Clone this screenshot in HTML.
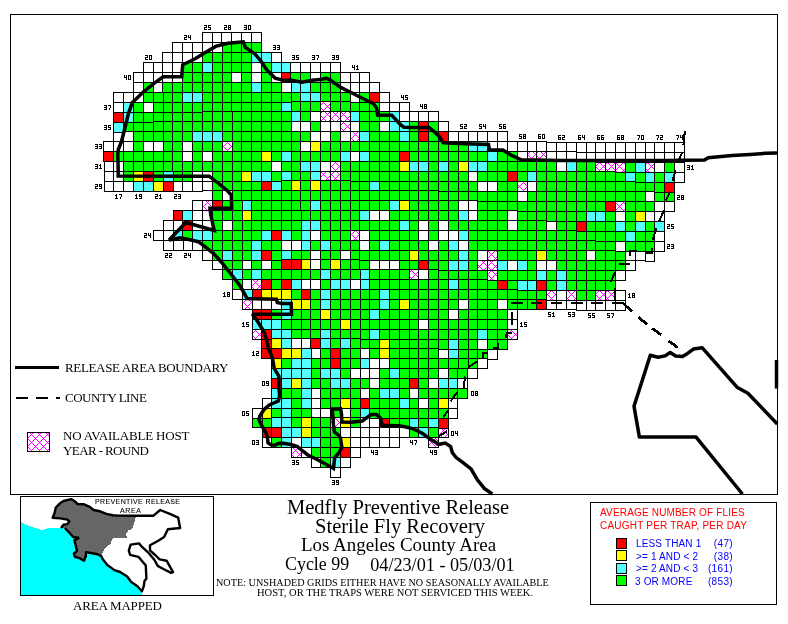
<!DOCTYPE html>
<html><head><meta charset="utf-8"><title>Medfly Preventive Release</title>
<style>
html,body{margin:0;padding:0;background:#fff;}
body{width:788px;height:624px;overflow:hidden;position:relative;font-family:"Liberation Serif",serif;}
svg{position:absolute;left:0;top:0;display:block}
.t{position:absolute;white-space:nowrap;color:#000;line-height:1;font-family:"Liberation Serif",serif;will-change:transform}
.s{font-family:"Liberation Sans",sans-serif}
</style></head><body>
<svg width="788" height="624" viewBox="0 0 788 624" shape-rendering="crispEdges">
<defs>
<pattern id="hx" patternUnits="userSpaceOnUse" width="8" height="8" x="0" y="0">
<g fill="#ff00ff" stroke="none"><rect x="0" y="1" width="1" height="1"/><rect x="0" y="3" width="1" height="1"/><rect x="1" y="0" width="1" height="1"/><rect x="1" y="4" width="1" height="1"/><rect x="2" y="5" width="1" height="1"/><rect x="2" y="7" width="1" height="1"/><rect x="3" y="6" width="1" height="1"/><rect x="4" y="5" width="1" height="1"/><rect x="4" y="7" width="1" height="1"/><rect x="5" y="0" width="1" height="1"/><rect x="5" y="4" width="1" height="1"/><rect x="6" y="1" width="1" height="1"/><rect x="6" y="3" width="1" height="1"/><rect x="7" y="2" width="1" height="1"/></g>
</pattern>
</defs>
<rect x="0" y="0" width="788" height="624" fill="#fff"/>
<g stroke="#000" stroke-width="1">
<rect x="202.5" y="32.5" width="10" height="10" fill="#ffffff"/>
<rect x="212.5" y="32.5" width="9" height="10" fill="#ffffff"/>
<rect x="221.5" y="32.5" width="10" height="10" fill="#ffffff"/>
<rect x="231.5" y="32.5" width="10" height="10" fill="#ffffff"/>
<rect x="241.5" y="32.5" width="10" height="10" fill="#ffffff"/>
<rect x="251.5" y="32.5" width="10" height="10" fill="#ffffff"/>
<rect x="172.5" y="42.5" width="10" height="10" fill="#ffffff"/>
<rect x="182.5" y="42.5" width="10" height="10" fill="#ffffff"/>
<rect x="192.5" y="42.5" width="10" height="10" fill="#ffffff"/>
<rect x="202.5" y="42.5" width="10" height="10" fill="#ffffff"/>
<rect x="212.5" y="42.5" width="10" height="10" fill="#ffffff"/>
<rect x="222.5" y="42.5" width="9" height="10" fill="#00ff00"/>
<rect x="231.5" y="42.5" width="10" height="10" fill="#00ff00"/>
<rect x="241.5" y="42.5" width="10" height="10" fill="#00ff00"/>
<rect x="251.5" y="42.5" width="10" height="10" fill="#00ff00"/>
<rect x="162.5" y="52.5" width="10" height="10" fill="#ffffff"/>
<rect x="172.5" y="52.5" width="10" height="10" fill="#ffffff"/>
<rect x="182.5" y="52.5" width="10" height="10" fill="#ffffff"/>
<rect x="192.5" y="52.5" width="10" height="10" fill="#ffffff"/>
<rect x="202.5" y="52.5" width="10" height="10" fill="#00ff00"/>
<rect x="212.5" y="52.5" width="10" height="10" fill="#00ff00"/>
<rect x="222.5" y="52.5" width="9" height="10" fill="#00ff00"/>
<rect x="231.5" y="52.5" width="10" height="10" fill="#00ff00"/>
<rect x="241.5" y="52.5" width="10" height="10" fill="#00ff00"/>
<rect x="251.5" y="52.5" width="10" height="10" fill="#55ffff"/>
<rect x="261.5" y="52.5" width="10" height="10" fill="#55ffff"/>
<rect x="271.5" y="52.5" width="10" height="10" fill="#ffffff"/>
<rect x="143.5" y="62.5" width="10" height="10" fill="#ffffff"/>
<rect x="153.5" y="62.5" width="9" height="10" fill="#ffffff"/>
<rect x="162.5" y="62.5" width="10" height="10" fill="#ffffff"/>
<rect x="172.5" y="62.5" width="10" height="10" fill="#ffffff"/>
<rect x="182.5" y="62.5" width="10" height="10" fill="#00ff00"/>
<rect x="192.5" y="62.5" width="10" height="10" fill="#00ff00"/>
<rect x="202.5" y="62.5" width="10" height="10" fill="#55ffff"/>
<rect x="212.5" y="62.5" width="10" height="10" fill="#00ff00"/>
<rect x="222.5" y="62.5" width="9" height="10" fill="#00ff00"/>
<rect x="231.5" y="62.5" width="10" height="10" fill="#00ff00"/>
<rect x="241.5" y="62.5" width="10" height="10" fill="#00ff00"/>
<rect x="251.5" y="62.5" width="10" height="10" fill="#ffffff"/>
<rect x="261.5" y="62.5" width="10" height="10" fill="#00ff00"/>
<rect x="271.5" y="62.5" width="10" height="10" fill="#55ffff"/>
<rect x="281.5" y="62.5" width="9" height="10" fill="#55ffff"/>
<rect x="290.5" y="62.5" width="10" height="10" fill="#ffffff"/>
<rect x="300.5" y="62.5" width="10" height="10" fill="#ffffff"/>
<rect x="310.5" y="62.5" width="10" height="10" fill="#ffffff"/>
<rect x="320.5" y="62.5" width="10" height="10" fill="#ffffff"/>
<rect x="330.5" y="62.5" width="10" height="10" fill="#ffffff"/>
<rect x="133.5" y="72.5" width="10" height="10" fill="#ffffff"/>
<rect x="143.5" y="72.5" width="10" height="10" fill="#ffffff"/>
<rect x="153.5" y="72.5" width="9" height="10" fill="#ffffff"/>
<rect x="162.5" y="72.5" width="10" height="10" fill="#ffffff"/>
<rect x="172.5" y="72.5" width="10" height="10" fill="#ffffff"/>
<rect x="182.5" y="72.5" width="10" height="10" fill="#00ff00"/>
<rect x="192.5" y="72.5" width="10" height="10" fill="#00ff00"/>
<rect x="202.5" y="72.5" width="10" height="10" fill="#00ff00"/>
<rect x="212.5" y="72.5" width="10" height="10" fill="#00ff00"/>
<rect x="222.5" y="72.5" width="9" height="10" fill="#00ff00"/>
<rect x="231.5" y="72.5" width="10" height="10" fill="#ffffff"/>
<rect x="241.5" y="72.5" width="10" height="10" fill="#00ff00"/>
<rect x="251.5" y="72.5" width="10" height="10" fill="#ffffff"/>
<rect x="261.5" y="72.5" width="10" height="10" fill="#00ff00"/>
<rect x="271.5" y="72.5" width="10" height="10" fill="#ffffff"/>
<rect x="281.5" y="72.5" width="9" height="10" fill="#ff0000"/>
<rect x="290.5" y="72.5" width="10" height="10" fill="#00ff00"/>
<rect x="300.5" y="72.5" width="10" height="10" fill="#00ff00"/>
<rect x="310.5" y="72.5" width="10" height="10" fill="#ffffff"/>
<rect x="320.5" y="72.5" width="10" height="10" fill="#00ff00"/>
<rect x="330.5" y="72.5" width="10" height="10" fill="#00ff00"/>
<rect x="340.5" y="72.5" width="10" height="10" fill="#ffffff"/>
<rect x="350.5" y="72.5" width="9" height="10" fill="#ffffff"/>
<rect x="359.5" y="72.5" width="10" height="10" fill="#ffffff"/>
<rect x="133.5" y="82.5" width="10" height="10" fill="#ffffff"/>
<rect x="143.5" y="82.5" width="10" height="10" fill="#00ff00"/>
<rect x="153.5" y="82.5" width="9" height="10" fill="#ffffff"/>
<rect x="162.5" y="82.5" width="10" height="10" fill="#00ff00"/>
<rect x="172.5" y="82.5" width="10" height="10" fill="#00ff00"/>
<rect x="182.5" y="82.5" width="10" height="10" fill="#00ff00"/>
<rect x="192.5" y="82.5" width="10" height="10" fill="#00ff00"/>
<rect x="202.5" y="82.5" width="10" height="10" fill="#00ff00"/>
<rect x="212.5" y="82.5" width="10" height="10" fill="#00ff00"/>
<rect x="222.5" y="82.5" width="9" height="10" fill="#00ff00"/>
<rect x="231.5" y="82.5" width="10" height="10" fill="#00ff00"/>
<rect x="241.5" y="82.5" width="10" height="10" fill="#00ff00"/>
<rect x="251.5" y="82.5" width="10" height="10" fill="#55ffff"/>
<rect x="261.5" y="82.5" width="10" height="10" fill="#00ff00"/>
<rect x="271.5" y="82.5" width="10" height="10" fill="#00ff00"/>
<rect x="281.5" y="82.5" width="10" height="10" fill="#ffffff"/>
<rect x="291.5" y="82.5" width="9" height="10" fill="#55ffff"/>
<rect x="300.5" y="82.5" width="10" height="10" fill="#55ffff"/>
<rect x="310.5" y="82.5" width="10" height="10" fill="#00ff00"/>
<rect x="320.5" y="82.5" width="10" height="10" fill="#00ff00"/>
<rect x="330.5" y="82.5" width="10" height="10" fill="#00ff00"/>
<rect x="340.5" y="82.5" width="10" height="10" fill="#ffffff"/>
<rect x="350.5" y="82.5" width="9" height="10" fill="#ffffff"/>
<rect x="359.5" y="82.5" width="10" height="10" fill="#ffffff"/>
<rect x="369.5" y="82.5" width="10" height="10" fill="#ffffff"/>
<rect x="113.5" y="92.5" width="10" height="10" fill="#ffffff"/>
<rect x="123.5" y="92.5" width="10" height="10" fill="#ffffff"/>
<rect x="133.5" y="92.5" width="10" height="10" fill="#ffffff"/>
<rect x="143.5" y="92.5" width="10" height="10" fill="#00ff00"/>
<rect x="153.5" y="92.5" width="10" height="10" fill="#00ff00"/>
<rect x="163.5" y="92.5" width="9" height="10" fill="#00ff00"/>
<rect x="172.5" y="92.5" width="10" height="10" fill="#00ff00"/>
<rect x="182.5" y="92.5" width="10" height="10" fill="#55ffff"/>
<rect x="192.5" y="92.5" width="10" height="10" fill="#55ffff"/>
<rect x="202.5" y="92.5" width="10" height="10" fill="#00ff00"/>
<rect x="212.5" y="92.5" width="10" height="10" fill="#00ff00"/>
<rect x="222.5" y="92.5" width="9" height="10" fill="#00ff00"/>
<rect x="231.5" y="92.5" width="10" height="10" fill="#00ff00"/>
<rect x="241.5" y="92.5" width="10" height="10" fill="#00ff00"/>
<rect x="251.5" y="92.5" width="10" height="10" fill="#00ff00"/>
<rect x="261.5" y="92.5" width="10" height="10" fill="#00ff00"/>
<rect x="271.5" y="92.5" width="10" height="10" fill="#00ff00"/>
<rect x="281.5" y="92.5" width="10" height="10" fill="#00ff00"/>
<rect x="291.5" y="92.5" width="9" height="9" fill="#00ff00"/>
<rect x="300.5" y="92.5" width="10" height="9" fill="#55ffff"/>
<rect x="310.5" y="92.5" width="10" height="9" fill="#55ffff"/>
<rect x="320.5" y="92.5" width="10" height="9" fill="#00ff00"/>
<rect x="330.5" y="92.5" width="10" height="9" fill="#00ff00"/>
<rect x="340.5" y="92.5" width="10" height="9" fill="#00ff00"/>
<rect x="350.5" y="92.5" width="9" height="10" fill="#ffffff"/>
<rect x="359.5" y="92.5" width="10" height="10" fill="#00ff00"/>
<rect x="369.5" y="92.5" width="10" height="10" fill="#ff0000"/>
<rect x="379.5" y="92.5" width="10" height="10" fill="#ffffff"/>
<rect x="113.5" y="102.5" width="10" height="10" fill="#ffffff"/>
<rect x="123.5" y="102.5" width="10" height="10" fill="#55ffff"/>
<rect x="133.5" y="102.5" width="10" height="10" fill="#00ff00"/>
<rect x="143.5" y="102.5" width="10" height="10" fill="#ffffff"/>
<rect x="153.5" y="102.5" width="10" height="10" fill="#00ff00"/>
<rect x="163.5" y="102.5" width="9" height="10" fill="#00ff00"/>
<rect x="172.5" y="102.5" width="10" height="10" fill="#00ff00"/>
<rect x="182.5" y="102.5" width="10" height="10" fill="#00ff00"/>
<rect x="192.5" y="102.5" width="10" height="10" fill="#00ff00"/>
<rect x="202.5" y="102.5" width="10" height="9" fill="#00ff00"/>
<rect x="212.5" y="102.5" width="10" height="9" fill="#00ff00"/>
<rect x="222.5" y="102.5" width="9" height="9" fill="#00ff00"/>
<rect x="231.5" y="102.5" width="10" height="9" fill="#00ff00"/>
<rect x="241.5" y="102.5" width="10" height="9" fill="#00ff00"/>
<rect x="251.5" y="102.5" width="10" height="9" fill="#00ff00"/>
<rect x="261.5" y="102.5" width="10" height="9" fill="#00ff00"/>
<rect x="271.5" y="102.5" width="10" height="9" fill="#00ff00"/>
<rect x="281.5" y="102.5" width="10" height="9" fill="#55ffff"/>
<rect x="291.5" y="101.5" width="9" height="10" fill="#00ff00"/>
<rect x="300.5" y="101.5" width="10" height="10" fill="#00ff00"/>
<rect x="310.5" y="101.5" width="10" height="10" fill="#00ff00"/>
<rect x="320.5" y="101.5" width="10" height="10" fill="#fff" stroke="none"/>
<rect x="320.5" y="101.5" width="10" height="10" fill="url(#hx)"/>
<rect x="330.5" y="101.5" width="10" height="10" fill="#00ff00"/>
<rect x="340.5" y="101.5" width="10" height="10" fill="#00ff00"/>
<rect x="350.5" y="102.5" width="9" height="9" fill="#00ff00"/>
<rect x="359.5" y="102.5" width="10" height="9" fill="#00ff00"/>
<rect x="369.5" y="102.5" width="10" height="9" fill="#00ff00"/>
<rect x="379.5" y="102.5" width="10" height="9" fill="#ffffff"/>
<rect x="389.5" y="102.5" width="10" height="9" fill="#ffffff"/>
<rect x="399.5" y="102.5" width="10" height="9" fill="#ffffff"/>
<rect x="113.5" y="112.5" width="10" height="10" fill="#ff0000"/>
<rect x="123.5" y="112.5" width="10" height="10" fill="#55ffff"/>
<rect x="133.5" y="112.5" width="10" height="10" fill="#00ff00"/>
<rect x="143.5" y="112.5" width="10" height="10" fill="#00ff00"/>
<rect x="153.5" y="112.5" width="10" height="9" fill="#00ff00"/>
<rect x="163.5" y="112.5" width="9" height="9" fill="#00ff00"/>
<rect x="172.5" y="112.5" width="10" height="9" fill="#00ff00"/>
<rect x="182.5" y="112.5" width="10" height="9" fill="#00ff00"/>
<rect x="192.5" y="112.5" width="10" height="9" fill="#00ff00"/>
<rect x="202.5" y="111.5" width="10" height="10" fill="#00ff00"/>
<rect x="212.5" y="111.5" width="10" height="10" fill="#00ff00"/>
<rect x="222.5" y="111.5" width="10" height="10" fill="#00ff00"/>
<rect x="232.5" y="111.5" width="9" height="10" fill="#00ff00"/>
<rect x="241.5" y="111.5" width="10" height="10" fill="#00ff00"/>
<rect x="251.5" y="111.5" width="10" height="10" fill="#00ff00"/>
<rect x="261.5" y="111.5" width="10" height="10" fill="#00ff00"/>
<rect x="271.5" y="111.5" width="10" height="10" fill="#00ff00"/>
<rect x="281.5" y="111.5" width="10" height="10" fill="#00ff00"/>
<rect x="291.5" y="111.5" width="9" height="10" fill="#55ffff"/>
<rect x="300.5" y="111.5" width="10" height="10" fill="#00ff00"/>
<rect x="310.5" y="111.5" width="10" height="10" fill="#ffffff"/>
<rect x="320.5" y="111.5" width="10" height="10" fill="#fff" stroke="none"/>
<rect x="320.5" y="111.5" width="10" height="10" fill="url(#hx)"/>
<rect x="330.5" y="111.5" width="10" height="10" fill="#fff" stroke="none"/>
<rect x="330.5" y="111.5" width="10" height="10" fill="url(#hx)"/>
<rect x="340.5" y="111.5" width="10" height="10" fill="#fff" stroke="none"/>
<rect x="340.5" y="111.5" width="10" height="10" fill="url(#hx)"/>
<rect x="350.5" y="111.5" width="9" height="10" fill="#55ffff"/>
<rect x="359.5" y="111.5" width="10" height="10" fill="#00ff00"/>
<rect x="369.5" y="111.5" width="10" height="10" fill="#00ff00"/>
<rect x="379.5" y="111.5" width="10" height="10" fill="#00ff00"/>
<rect x="389.5" y="111.5" width="10" height="10" fill="#55ffff"/>
<rect x="399.5" y="111.5" width="10" height="10" fill="#ffffff"/>
<rect x="409.5" y="111.5" width="9" height="10" fill="#ffffff"/>
<rect x="418.5" y="111.5" width="10" height="10" fill="#ffffff"/>
<rect x="428.5" y="111.5" width="10" height="10" fill="#ffffff"/>
<rect x="113.5" y="122.5" width="10" height="10" fill="#55ffff"/>
<rect x="123.5" y="122.5" width="10" height="9" fill="#00ff00"/>
<rect x="133.5" y="122.5" width="10" height="9" fill="#00ff00"/>
<rect x="143.5" y="122.5" width="10" height="9" fill="#00ff00"/>
<rect x="153.5" y="121.5" width="10" height="10" fill="#00ff00"/>
<rect x="163.5" y="121.5" width="9" height="10" fill="#00ff00"/>
<rect x="172.5" y="121.5" width="10" height="10" fill="#00ff00"/>
<rect x="182.5" y="121.5" width="10" height="10" fill="#00ff00"/>
<rect x="192.5" y="121.5" width="10" height="10" fill="#00ff00"/>
<rect x="202.5" y="121.5" width="10" height="10" fill="#00ff00"/>
<rect x="212.5" y="121.5" width="10" height="10" fill="#00ff00"/>
<rect x="222.5" y="121.5" width="10" height="10" fill="#00ff00"/>
<rect x="232.5" y="121.5" width="9" height="10" fill="#00ff00"/>
<rect x="241.5" y="121.5" width="10" height="10" fill="#00ff00"/>
<rect x="251.5" y="121.5" width="10" height="10" fill="#00ff00"/>
<rect x="261.5" y="121.5" width="10" height="10" fill="#00ff00"/>
<rect x="271.5" y="121.5" width="10" height="10" fill="#00ff00"/>
<rect x="281.5" y="121.5" width="10" height="10" fill="#00ff00"/>
<rect x="291.5" y="121.5" width="9" height="10" fill="#ffffff"/>
<rect x="300.5" y="121.5" width="10" height="10" fill="#ffffff"/>
<rect x="310.5" y="121.5" width="10" height="10" fill="#00ff00"/>
<rect x="320.5" y="121.5" width="10" height="10" fill="#ffffff"/>
<rect x="330.5" y="121.5" width="10" height="10" fill="#ffffff"/>
<rect x="340.5" y="121.5" width="10" height="10" fill="#fff" stroke="none"/>
<rect x="340.5" y="121.5" width="10" height="10" fill="url(#hx)"/>
<rect x="350.5" y="121.5" width="9" height="10" fill="#ffffff"/>
<rect x="359.5" y="121.5" width="10" height="10" fill="#00ff00"/>
<rect x="369.5" y="121.5" width="10" height="10" fill="#00ff00"/>
<rect x="379.5" y="121.5" width="10" height="10" fill="#ffffff"/>
<rect x="389.5" y="121.5" width="10" height="10" fill="#55ffff"/>
<rect x="399.5" y="121.5" width="10" height="10" fill="#55ffff"/>
<rect x="409.5" y="121.5" width="9" height="10" fill="#00ff00"/>
<rect x="418.5" y="121.5" width="10" height="10" fill="#ff0000"/>
<rect x="428.5" y="121.5" width="10" height="10" fill="#00ff00"/>
<rect x="438.5" y="121.5" width="10" height="10" fill="#ffffff"/>
<rect x="113.5" y="132.5" width="10" height="9" fill="#ffffff"/>
<rect x="123.5" y="131.5" width="10" height="10" fill="#ffffff"/>
<rect x="133.5" y="131.5" width="10" height="10" fill="#00ff00"/>
<rect x="143.5" y="131.5" width="10" height="10" fill="#00ff00"/>
<rect x="153.5" y="131.5" width="10" height="10" fill="#00ff00"/>
<rect x="163.5" y="131.5" width="9" height="10" fill="#00ff00"/>
<rect x="172.5" y="131.5" width="10" height="10" fill="#00ff00"/>
<rect x="182.5" y="131.5" width="10" height="10" fill="#00ff00"/>
<rect x="192.5" y="131.5" width="10" height="10" fill="#55ffff"/>
<rect x="202.5" y="131.5" width="10" height="10" fill="#55ffff"/>
<rect x="212.5" y="131.5" width="10" height="10" fill="#55ffff"/>
<rect x="222.5" y="131.5" width="10" height="10" fill="#00ff00"/>
<rect x="232.5" y="131.5" width="9" height="10" fill="#00ff00"/>
<rect x="241.5" y="131.5" width="10" height="10" fill="#00ff00"/>
<rect x="251.5" y="131.5" width="10" height="10" fill="#00ff00"/>
<rect x="261.5" y="131.5" width="10" height="10" fill="#00ff00"/>
<rect x="271.5" y="131.5" width="10" height="10" fill="#00ff00"/>
<rect x="281.5" y="131.5" width="10" height="10" fill="#00ff00"/>
<rect x="291.5" y="131.5" width="9" height="10" fill="#00ff00"/>
<rect x="300.5" y="131.5" width="10" height="10" fill="#00ff00"/>
<rect x="310.5" y="131.5" width="10" height="10" fill="#ffffff"/>
<rect x="320.5" y="131.5" width="10" height="10" fill="#ffffff"/>
<rect x="330.5" y="131.5" width="10" height="10" fill="#00ff00"/>
<rect x="340.5" y="131.5" width="10" height="10" fill="#ffffff"/>
<rect x="350.5" y="131.5" width="9" height="10" fill="#fff" stroke="none"/>
<rect x="350.5" y="131.5" width="9" height="10" fill="url(#hx)"/>
<rect x="359.5" y="131.5" width="10" height="10" fill="#55ffff"/>
<rect x="369.5" y="131.5" width="10" height="10" fill="#00ff00"/>
<rect x="379.5" y="131.5" width="10" height="10" fill="#00ff00"/>
<rect x="389.5" y="131.5" width="10" height="10" fill="#00ff00"/>
<rect x="399.5" y="131.5" width="10" height="10" fill="#55ffff"/>
<rect x="409.5" y="131.5" width="9" height="10" fill="#00ff00"/>
<rect x="418.5" y="131.5" width="10" height="10" fill="#ff0000"/>
<rect x="428.5" y="131.5" width="10" height="10" fill="#00ff00"/>
<rect x="438.5" y="131.5" width="10" height="10" fill="#ff0000"/>
<rect x="448.5" y="131.5" width="10" height="10" fill="#ffffff"/>
<rect x="458.5" y="131.5" width="10" height="10" fill="#ffffff"/>
<rect x="468.5" y="131.5" width="9" height="10" fill="#ffffff"/>
<rect x="477.5" y="131.5" width="10" height="10" fill="#ffffff"/>
<rect x="487.5" y="131.5" width="10" height="10" fill="#ffffff"/>
<rect x="497.5" y="131.5" width="10" height="10" fill="#ffffff"/>
<rect x="103.5" y="141.5" width="10" height="10" fill="#ffffff"/>
<rect x="113.5" y="141.5" width="10" height="10" fill="#ffffff"/>
<rect x="123.5" y="141.5" width="10" height="10" fill="#ffffff"/>
<rect x="133.5" y="141.5" width="10" height="10" fill="#00ff00"/>
<rect x="143.5" y="141.5" width="10" height="10" fill="#ffffff"/>
<rect x="153.5" y="141.5" width="10" height="10" fill="#ffffff"/>
<rect x="163.5" y="141.5" width="9" height="10" fill="#00ff00"/>
<rect x="172.5" y="141.5" width="10" height="10" fill="#00ff00"/>
<rect x="182.5" y="141.5" width="10" height="10" fill="#ffffff"/>
<rect x="192.5" y="141.5" width="10" height="10" fill="#00ff00"/>
<rect x="202.5" y="141.5" width="10" height="10" fill="#00ff00"/>
<rect x="212.5" y="141.5" width="10" height="10" fill="#00ff00"/>
<rect x="222.5" y="141.5" width="10" height="10" fill="#fff" stroke="none"/>
<rect x="222.5" y="141.5" width="10" height="10" fill="url(#hx)"/>
<rect x="232.5" y="141.5" width="9" height="10" fill="#00ff00"/>
<rect x="241.5" y="141.5" width="10" height="10" fill="#00ff00"/>
<rect x="251.5" y="141.5" width="10" height="10" fill="#00ff00"/>
<rect x="261.5" y="141.5" width="10" height="10" fill="#00ff00"/>
<rect x="271.5" y="141.5" width="10" height="10" fill="#00ff00"/>
<rect x="281.5" y="141.5" width="10" height="10" fill="#00ff00"/>
<rect x="291.5" y="141.5" width="9" height="10" fill="#00ff00"/>
<rect x="300.5" y="141.5" width="10" height="10" fill="#ffffff"/>
<rect x="310.5" y="141.5" width="10" height="10" fill="#ffff00"/>
<rect x="320.5" y="141.5" width="10" height="10" fill="#00ff00"/>
<rect x="330.5" y="141.5" width="10" height="10" fill="#00ff00"/>
<rect x="340.5" y="141.5" width="10" height="10" fill="#00ff00"/>
<rect x="350.5" y="141.5" width="9" height="10" fill="#00ff00"/>
<rect x="359.5" y="141.5" width="10" height="10" fill="#00ff00"/>
<rect x="369.5" y="141.5" width="10" height="10" fill="#00ff00"/>
<rect x="379.5" y="141.5" width="10" height="10" fill="#00ff00"/>
<rect x="389.5" y="141.5" width="10" height="10" fill="#00ff00"/>
<rect x="399.5" y="141.5" width="10" height="10" fill="#00ff00"/>
<rect x="409.5" y="141.5" width="9" height="10" fill="#00ff00"/>
<rect x="418.5" y="141.5" width="10" height="10" fill="#00ff00"/>
<rect x="428.5" y="141.5" width="10" height="10" fill="#00ff00"/>
<rect x="438.5" y="141.5" width="10" height="10" fill="#00ff00"/>
<rect x="448.5" y="141.5" width="10" height="10" fill="#00ff00"/>
<rect x="458.5" y="141.5" width="10" height="10" fill="#00ff00"/>
<rect x="468.5" y="141.5" width="9" height="10" fill="#55ffff"/>
<rect x="477.5" y="141.5" width="10" height="10" fill="#55ffff"/>
<rect x="487.5" y="141.5" width="10" height="10" fill="#ffffff"/>
<rect x="497.5" y="141.5" width="10" height="10" fill="#ffffff"/>
<rect x="507.5" y="141.5" width="10" height="10" fill="#ffffff"/>
<rect x="517.5" y="141.5" width="10" height="10" fill="#ffffff"/>
<rect x="527.5" y="141.5" width="9" height="10" fill="#ffffff"/>
<rect x="536.5" y="141.5" width="10" height="10" fill="#ffffff"/>
<rect x="546.5" y="142.5" width="10" height="9" fill="#ffffff"/>
<rect x="556.5" y="142.5" width="10" height="9" fill="#ffffff"/>
<rect x="566.5" y="142.5" width="10" height="9" fill="#ffffff"/>
<rect x="576.5" y="142.5" width="10" height="10" fill="#ffffff"/>
<rect x="586.5" y="142.5" width="9" height="10" fill="#ffffff"/>
<rect x="595.5" y="142.5" width="10" height="10" fill="#ffffff"/>
<rect x="605.5" y="142.5" width="10" height="10" fill="#ffffff"/>
<rect x="615.5" y="142.5" width="10" height="10" fill="#ffffff"/>
<rect x="625.5" y="142.5" width="10" height="10" fill="#ffffff"/>
<rect x="635.5" y="142.5" width="10" height="10" fill="#ffffff"/>
<rect x="645.5" y="142.5" width="9" height="10" fill="#ffffff"/>
<rect x="654.5" y="142.5" width="10" height="10" fill="#ffffff"/>
<rect x="664.5" y="142.5" width="10" height="10" fill="#ffffff"/>
<rect x="674.5" y="142.5" width="10" height="10" fill="#ffffff"/>
<rect x="103.5" y="151.5" width="10" height="10" fill="#ff0000"/>
<rect x="113.5" y="151.5" width="10" height="10" fill="#00ff00"/>
<rect x="123.5" y="151.5" width="10" height="10" fill="#00ff00"/>
<rect x="133.5" y="151.5" width="10" height="10" fill="#00ff00"/>
<rect x="143.5" y="151.5" width="10" height="10" fill="#00ff00"/>
<rect x="153.5" y="151.5" width="10" height="10" fill="#00ff00"/>
<rect x="163.5" y="151.5" width="9" height="10" fill="#00ff00"/>
<rect x="172.5" y="151.5" width="10" height="10" fill="#00ff00"/>
<rect x="182.5" y="151.5" width="10" height="10" fill="#ffffff"/>
<rect x="192.5" y="151.5" width="10" height="10" fill="#00ff00"/>
<rect x="202.5" y="151.5" width="10" height="10" fill="#ffffff"/>
<rect x="212.5" y="151.5" width="10" height="10" fill="#00ff00"/>
<rect x="222.5" y="151.5" width="10" height="10" fill="#00ff00"/>
<rect x="232.5" y="151.5" width="9" height="10" fill="#00ff00"/>
<rect x="241.5" y="151.5" width="10" height="10" fill="#00ff00"/>
<rect x="251.5" y="151.5" width="10" height="10" fill="#00ff00"/>
<rect x="261.5" y="151.5" width="10" height="10" fill="#ffff00"/>
<rect x="271.5" y="151.5" width="10" height="10" fill="#00ff00"/>
<rect x="281.5" y="151.5" width="10" height="10" fill="#55ffff"/>
<rect x="291.5" y="151.5" width="9" height="10" fill="#00ff00"/>
<rect x="300.5" y="151.5" width="10" height="10" fill="#00ff00"/>
<rect x="310.5" y="151.5" width="10" height="10" fill="#00ff00"/>
<rect x="320.5" y="151.5" width="10" height="10" fill="#00ff00"/>
<rect x="330.5" y="151.5" width="10" height="10" fill="#00ff00"/>
<rect x="340.5" y="151.5" width="10" height="10" fill="#55ffff"/>
<rect x="350.5" y="151.5" width="9" height="10" fill="#ffffff"/>
<rect x="359.5" y="151.5" width="10" height="10" fill="#55ffff"/>
<rect x="369.5" y="151.5" width="10" height="10" fill="#00ff00"/>
<rect x="379.5" y="151.5" width="10" height="10" fill="#00ff00"/>
<rect x="389.5" y="151.5" width="10" height="10" fill="#00ff00"/>
<rect x="399.5" y="151.5" width="10" height="10" fill="#ff0000"/>
<rect x="409.5" y="151.5" width="9" height="10" fill="#00ff00"/>
<rect x="418.5" y="151.5" width="10" height="10" fill="#00ff00"/>
<rect x="428.5" y="151.5" width="10" height="10" fill="#00ff00"/>
<rect x="438.5" y="151.5" width="10" height="10" fill="#00ff00"/>
<rect x="448.5" y="151.5" width="10" height="10" fill="#00ff00"/>
<rect x="458.5" y="151.5" width="10" height="10" fill="#00ff00"/>
<rect x="468.5" y="151.5" width="9" height="10" fill="#00ff00"/>
<rect x="477.5" y="151.5" width="10" height="10" fill="#00ff00"/>
<rect x="487.5" y="151.5" width="10" height="10" fill="#55ffff"/>
<rect x="497.5" y="151.5" width="10" height="10" fill="#00ff00"/>
<rect x="507.5" y="151.5" width="10" height="10" fill="#00ff00"/>
<rect x="517.5" y="151.5" width="10" height="10" fill="#ffffff"/>
<rect x="527.5" y="151.5" width="9" height="10" fill="#fff" stroke="none"/>
<rect x="527.5" y="151.5" width="9" height="10" fill="url(#hx)"/>
<rect x="536.5" y="151.5" width="10" height="10" fill="#fff" stroke="none"/>
<rect x="536.5" y="151.5" width="10" height="10" fill="url(#hx)"/>
<rect x="546.5" y="151.5" width="10" height="10" fill="#ffffff"/>
<rect x="556.5" y="151.5" width="10" height="10" fill="#ffffff"/>
<rect x="566.5" y="151.5" width="10" height="10" fill="#ffffff"/>
<rect x="576.5" y="152.5" width="10" height="9" fill="#ffffff"/>
<rect x="586.5" y="152.5" width="9" height="9" fill="#ffffff"/>
<rect x="595.5" y="152.5" width="10" height="10" fill="#ffffff"/>
<rect x="605.5" y="152.5" width="10" height="10" fill="#ffffff"/>
<rect x="615.5" y="152.5" width="10" height="10" fill="#ffffff"/>
<rect x="625.5" y="152.5" width="10" height="10" fill="#ffffff"/>
<rect x="635.5" y="152.5" width="10" height="10" fill="#ffffff"/>
<rect x="645.5" y="152.5" width="9" height="10" fill="#ffffff"/>
<rect x="654.5" y="152.5" width="10" height="10" fill="#ffffff"/>
<rect x="664.5" y="152.5" width="10" height="10" fill="#ffffff"/>
<rect x="674.5" y="152.5" width="10" height="10" fill="#ffffff"/>
<rect x="104.5" y="161.5" width="9" height="10" fill="#ffffff"/>
<rect x="113.5" y="161.5" width="10" height="10" fill="#ffffff"/>
<rect x="123.5" y="161.5" width="10" height="10" fill="#00ff00"/>
<rect x="133.5" y="161.5" width="10" height="10" fill="#00ff00"/>
<rect x="143.5" y="161.5" width="10" height="10" fill="#00ff00"/>
<rect x="153.5" y="161.5" width="10" height="10" fill="#00ff00"/>
<rect x="163.5" y="161.5" width="9" height="10" fill="#00ff00"/>
<rect x="172.5" y="161.5" width="10" height="10" fill="#00ff00"/>
<rect x="182.5" y="161.5" width="10" height="10" fill="#00ff00"/>
<rect x="192.5" y="161.5" width="10" height="10" fill="#00ff00"/>
<rect x="202.5" y="161.5" width="10" height="10" fill="#00ff00"/>
<rect x="212.5" y="161.5" width="10" height="10" fill="#00ff00"/>
<rect x="222.5" y="161.5" width="10" height="10" fill="#00ff00"/>
<rect x="232.5" y="161.5" width="9" height="10" fill="#00ff00"/>
<rect x="241.5" y="161.5" width="10" height="10" fill="#00ff00"/>
<rect x="251.5" y="161.5" width="10" height="10" fill="#00ff00"/>
<rect x="261.5" y="161.5" width="10" height="10" fill="#00ff00"/>
<rect x="271.5" y="161.5" width="10" height="10" fill="#ffffff"/>
<rect x="281.5" y="161.5" width="10" height="10" fill="#00ff00"/>
<rect x="291.5" y="161.5" width="9" height="10" fill="#00ff00"/>
<rect x="300.5" y="161.5" width="10" height="10" fill="#55ffff"/>
<rect x="310.5" y="161.5" width="10" height="10" fill="#55ffff"/>
<rect x="320.5" y="161.5" width="10" height="10" fill="#ffffff"/>
<rect x="330.5" y="161.5" width="10" height="10" fill="#fff" stroke="none"/>
<rect x="330.5" y="161.5" width="10" height="10" fill="url(#hx)"/>
<rect x="340.5" y="161.5" width="10" height="10" fill="#00ff00"/>
<rect x="350.5" y="161.5" width="9" height="10" fill="#00ff00"/>
<rect x="359.5" y="161.5" width="10" height="10" fill="#00ff00"/>
<rect x="369.5" y="161.5" width="10" height="10" fill="#00ff00"/>
<rect x="379.5" y="161.5" width="10" height="10" fill="#00ff00"/>
<rect x="389.5" y="161.5" width="10" height="10" fill="#00ff00"/>
<rect x="399.5" y="161.5" width="10" height="10" fill="#ffff00"/>
<rect x="409.5" y="161.5" width="9" height="10" fill="#55ffff"/>
<rect x="418.5" y="161.5" width="10" height="10" fill="#55ffff"/>
<rect x="428.5" y="161.5" width="10" height="10" fill="#00ff00"/>
<rect x="438.5" y="161.5" width="10" height="10" fill="#55ffff"/>
<rect x="448.5" y="161.5" width="10" height="10" fill="#00ff00"/>
<rect x="458.5" y="161.5" width="10" height="10" fill="#ffff00"/>
<rect x="468.5" y="161.5" width="9" height="10" fill="#55ffff"/>
<rect x="477.5" y="161.5" width="10" height="10" fill="#55ffff"/>
<rect x="487.5" y="161.5" width="10" height="10" fill="#00ff00"/>
<rect x="497.5" y="161.5" width="10" height="10" fill="#00ff00"/>
<rect x="507.5" y="161.5" width="10" height="10" fill="#00ff00"/>
<rect x="517.5" y="161.5" width="10" height="10" fill="#00ff00"/>
<rect x="527.5" y="161.5" width="9" height="10" fill="#00ff00"/>
<rect x="536.5" y="161.5" width="10" height="10" fill="#00ff00"/>
<rect x="546.5" y="161.5" width="10" height="10" fill="#00ff00"/>
<rect x="556.5" y="161.5" width="10" height="10" fill="#ffffff"/>
<rect x="566.5" y="161.5" width="10" height="10" fill="#55ffff"/>
<rect x="576.5" y="161.5" width="10" height="10" fill="#00ff00"/>
<rect x="586.5" y="161.5" width="9" height="10" fill="#00ff00"/>
<rect x="595.5" y="162.5" width="10" height="9" fill="#fff" stroke="none"/>
<rect x="595.5" y="162.5" width="10" height="9" fill="url(#hx)"/>
<rect x="605.5" y="162.5" width="10" height="9" fill="#fff" stroke="none"/>
<rect x="605.5" y="162.5" width="10" height="9" fill="url(#hx)"/>
<rect x="615.5" y="162.5" width="10" height="10" fill="#fff" stroke="none"/>
<rect x="615.5" y="162.5" width="10" height="10" fill="url(#hx)"/>
<rect x="625.5" y="162.5" width="10" height="10" fill="#00ff00"/>
<rect x="635.5" y="162.5" width="10" height="10" fill="#55ffff"/>
<rect x="645.5" y="162.5" width="9" height="10" fill="#fff" stroke="none"/>
<rect x="645.5" y="162.5" width="9" height="10" fill="url(#hx)"/>
<rect x="654.5" y="162.5" width="10" height="10" fill="#ffffff"/>
<rect x="664.5" y="162.5" width="10" height="10" fill="#00ff00"/>
<rect x="674.5" y="162.5" width="10" height="10" fill="#ffffff"/>
<rect x="104.5" y="171.5" width="9" height="10" fill="#ffffff"/>
<rect x="113.5" y="171.5" width="10" height="10" fill="#ffffff"/>
<rect x="123.5" y="171.5" width="10" height="10" fill="#00ff00"/>
<rect x="133.5" y="171.5" width="10" height="10" fill="#ffff00"/>
<rect x="143.5" y="171.5" width="10" height="10" fill="#ff0000"/>
<rect x="153.5" y="171.5" width="10" height="10" fill="#00ff00"/>
<rect x="163.5" y="171.5" width="10" height="10" fill="#55ffff"/>
<rect x="173.5" y="171.5" width="9" height="10" fill="#00ff00"/>
<rect x="182.5" y="171.5" width="10" height="10" fill="#00ff00"/>
<rect x="192.5" y="171.5" width="10" height="10" fill="#ffffff"/>
<rect x="202.5" y="171.5" width="10" height="10" fill="#ffffff"/>
<rect x="212.5" y="171.5" width="10" height="10" fill="#00ff00"/>
<rect x="222.5" y="171.5" width="10" height="10" fill="#00ff00"/>
<rect x="232.5" y="171.5" width="9" height="10" fill="#00ff00"/>
<rect x="241.5" y="171.5" width="10" height="10" fill="#ffff00"/>
<rect x="251.5" y="171.5" width="10" height="10" fill="#55ffff"/>
<rect x="261.5" y="171.5" width="10" height="10" fill="#55ffff"/>
<rect x="271.5" y="171.5" width="10" height="10" fill="#00ff00"/>
<rect x="281.5" y="171.5" width="10" height="9" fill="#55ffff"/>
<rect x="291.5" y="171.5" width="9" height="9" fill="#00ff00"/>
<rect x="300.5" y="171.5" width="10" height="9" fill="#00ff00"/>
<rect x="310.5" y="171.5" width="10" height="9" fill="#55ffff"/>
<rect x="320.5" y="171.5" width="10" height="9" fill="#fff" stroke="none"/>
<rect x="320.5" y="171.5" width="10" height="9" fill="url(#hx)"/>
<rect x="330.5" y="171.5" width="10" height="9" fill="#fff" stroke="none"/>
<rect x="330.5" y="171.5" width="10" height="9" fill="url(#hx)"/>
<rect x="340.5" y="171.5" width="10" height="9" fill="#00ff00"/>
<rect x="350.5" y="171.5" width="9" height="10" fill="#00ff00"/>
<rect x="359.5" y="171.5" width="10" height="10" fill="#00ff00"/>
<rect x="369.5" y="171.5" width="10" height="10" fill="#00ff00"/>
<rect x="379.5" y="171.5" width="10" height="10" fill="#00ff00"/>
<rect x="389.5" y="171.5" width="10" height="10" fill="#00ff00"/>
<rect x="399.5" y="171.5" width="10" height="10" fill="#00ff00"/>
<rect x="409.5" y="171.5" width="9" height="10" fill="#00ff00"/>
<rect x="418.5" y="171.5" width="10" height="10" fill="#00ff00"/>
<rect x="428.5" y="171.5" width="10" height="10" fill="#00ff00"/>
<rect x="438.5" y="171.5" width="10" height="10" fill="#00ff00"/>
<rect x="448.5" y="171.5" width="10" height="10" fill="#00ff00"/>
<rect x="458.5" y="171.5" width="10" height="10" fill="#00ff00"/>
<rect x="468.5" y="171.5" width="9" height="10" fill="#ffffff"/>
<rect x="477.5" y="171.5" width="10" height="10" fill="#00ff00"/>
<rect x="487.5" y="171.5" width="10" height="10" fill="#00ff00"/>
<rect x="497.5" y="171.5" width="10" height="10" fill="#00ff00"/>
<rect x="507.5" y="171.5" width="10" height="10" fill="#ff0000"/>
<rect x="517.5" y="171.5" width="10" height="10" fill="#00ff00"/>
<rect x="527.5" y="171.5" width="9" height="10" fill="#55ffff"/>
<rect x="536.5" y="171.5" width="10" height="10" fill="#00ff00"/>
<rect x="546.5" y="171.5" width="10" height="10" fill="#00ff00"/>
<rect x="556.5" y="171.5" width="10" height="10" fill="#00ff00"/>
<rect x="566.5" y="171.5" width="10" height="10" fill="#00ff00"/>
<rect x="576.5" y="171.5" width="10" height="10" fill="#00ff00"/>
<rect x="586.5" y="171.5" width="9" height="10" fill="#00ff00"/>
<rect x="595.5" y="171.5" width="10" height="10" fill="#00ff00"/>
<rect x="605.5" y="171.5" width="10" height="10" fill="#00ff00"/>
<rect x="615.5" y="172.5" width="10" height="9" fill="#00ff00"/>
<rect x="625.5" y="172.5" width="10" height="9" fill="#55ffff"/>
<rect x="635.5" y="172.5" width="10" height="10" fill="#00ff00"/>
<rect x="645.5" y="172.5" width="9" height="10" fill="#55ffff"/>
<rect x="654.5" y="172.5" width="10" height="10" fill="#00ff00"/>
<rect x="664.5" y="172.5" width="10" height="10" fill="#55ffff"/>
<rect x="674.5" y="172.5" width="10" height="10" fill="#ffffff"/>
<rect x="104.5" y="181.5" width="9" height="10" fill="#ffffff"/>
<rect x="113.5" y="181.5" width="10" height="10" fill="#ffffff"/>
<rect x="123.5" y="181.5" width="10" height="10" fill="#ffffff"/>
<rect x="133.5" y="181.5" width="10" height="10" fill="#55ffff"/>
<rect x="143.5" y="181.5" width="10" height="10" fill="#55ffff"/>
<rect x="153.5" y="181.5" width="10" height="10" fill="#ffff00"/>
<rect x="163.5" y="181.5" width="10" height="10" fill="#ff0000"/>
<rect x="173.5" y="181.5" width="9" height="10" fill="#ffffff"/>
<rect x="182.5" y="181.5" width="10" height="10" fill="#ffffff"/>
<rect x="192.5" y="181.5" width="10" height="10" fill="#ffffff"/>
<rect x="202.5" y="181.5" width="10" height="9" fill="#ffffff"/>
<rect x="212.5" y="181.5" width="10" height="9" fill="#00ff00"/>
<rect x="222.5" y="181.5" width="10" height="9" fill="#00ff00"/>
<rect x="232.5" y="181.5" width="9" height="9" fill="#00ff00"/>
<rect x="241.5" y="181.5" width="10" height="9" fill="#00ff00"/>
<rect x="251.5" y="181.5" width="10" height="9" fill="#00ff00"/>
<rect x="261.5" y="181.5" width="10" height="9" fill="#ff0000"/>
<rect x="271.5" y="181.5" width="10" height="9" fill="#55ffff"/>
<rect x="281.5" y="180.5" width="10" height="10" fill="#00ff00"/>
<rect x="291.5" y="180.5" width="9" height="10" fill="#ffff00"/>
<rect x="300.5" y="180.5" width="10" height="10" fill="#00ff00"/>
<rect x="310.5" y="180.5" width="10" height="10" fill="#ffff00"/>
<rect x="320.5" y="180.5" width="10" height="10" fill="#00ff00"/>
<rect x="330.5" y="180.5" width="10" height="10" fill="#00ff00"/>
<rect x="340.5" y="180.5" width="10" height="10" fill="#00ff00"/>
<rect x="350.5" y="181.5" width="9" height="9" fill="#00ff00"/>
<rect x="359.5" y="181.5" width="10" height="9" fill="#00ff00"/>
<rect x="369.5" y="181.5" width="10" height="9" fill="#55ffff"/>
<rect x="379.5" y="181.5" width="10" height="9" fill="#00ff00"/>
<rect x="389.5" y="181.5" width="10" height="9" fill="#00ff00"/>
<rect x="399.5" y="181.5" width="10" height="9" fill="#00ff00"/>
<rect x="409.5" y="181.5" width="9" height="9" fill="#00ff00"/>
<rect x="418.5" y="181.5" width="10" height="9" fill="#00ff00"/>
<rect x="428.5" y="181.5" width="10" height="9" fill="#00ff00"/>
<rect x="438.5" y="181.5" width="10" height="10" fill="#00ff00"/>
<rect x="448.5" y="181.5" width="10" height="10" fill="#00ff00"/>
<rect x="458.5" y="181.5" width="10" height="10" fill="#00ff00"/>
<rect x="468.5" y="181.5" width="9" height="10" fill="#00ff00"/>
<rect x="477.5" y="181.5" width="10" height="10" fill="#ffffff"/>
<rect x="487.5" y="181.5" width="10" height="10" fill="#ffffff"/>
<rect x="497.5" y="181.5" width="10" height="10" fill="#00ff00"/>
<rect x="507.5" y="181.5" width="10" height="10" fill="#00ff00"/>
<rect x="517.5" y="181.5" width="10" height="10" fill="#fff" stroke="none"/>
<rect x="517.5" y="181.5" width="10" height="10" fill="url(#hx)"/>
<rect x="527.5" y="181.5" width="9" height="10" fill="#ffffff"/>
<rect x="536.5" y="181.5" width="10" height="10" fill="#00ff00"/>
<rect x="546.5" y="181.5" width="10" height="10" fill="#00ff00"/>
<rect x="556.5" y="181.5" width="10" height="10" fill="#00ff00"/>
<rect x="566.5" y="181.5" width="10" height="10" fill="#00ff00"/>
<rect x="576.5" y="181.5" width="10" height="10" fill="#00ff00"/>
<rect x="586.5" y="181.5" width="9" height="10" fill="#00ff00"/>
<rect x="595.5" y="181.5" width="10" height="10" fill="#00ff00"/>
<rect x="605.5" y="181.5" width="10" height="10" fill="#00ff00"/>
<rect x="615.5" y="181.5" width="10" height="10" fill="#00ff00"/>
<rect x="625.5" y="181.5" width="10" height="10" fill="#00ff00"/>
<rect x="635.5" y="182.5" width="10" height="9" fill="#00ff00"/>
<rect x="645.5" y="182.5" width="9" height="9" fill="#00ff00"/>
<rect x="654.5" y="182.5" width="10" height="10" fill="#00ff00"/>
<rect x="664.5" y="182.5" width="10" height="10" fill="#ff0000"/>
<rect x="212.5" y="190.5" width="10" height="10" fill="#00ff00"/>
<rect x="222.5" y="190.5" width="10" height="10" fill="#ffffff"/>
<rect x="232.5" y="190.5" width="9" height="10" fill="#00ff00"/>
<rect x="241.5" y="190.5" width="10" height="10" fill="#00ff00"/>
<rect x="251.5" y="190.5" width="10" height="10" fill="#00ff00"/>
<rect x="261.5" y="190.5" width="10" height="10" fill="#00ff00"/>
<rect x="271.5" y="190.5" width="10" height="10" fill="#00ff00"/>
<rect x="281.5" y="190.5" width="10" height="10" fill="#00ff00"/>
<rect x="291.5" y="190.5" width="9" height="10" fill="#00ff00"/>
<rect x="300.5" y="190.5" width="10" height="10" fill="#00ff00"/>
<rect x="310.5" y="190.5" width="10" height="10" fill="#00ff00"/>
<rect x="320.5" y="190.5" width="10" height="10" fill="#00ff00"/>
<rect x="330.5" y="190.5" width="10" height="10" fill="#00ff00"/>
<rect x="340.5" y="190.5" width="10" height="10" fill="#00ff00"/>
<rect x="350.5" y="190.5" width="9" height="10" fill="#00ff00"/>
<rect x="359.5" y="190.5" width="10" height="10" fill="#00ff00"/>
<rect x="369.5" y="190.5" width="10" height="10" fill="#00ff00"/>
<rect x="379.5" y="190.5" width="10" height="10" fill="#00ff00"/>
<rect x="389.5" y="190.5" width="10" height="10" fill="#00ff00"/>
<rect x="399.5" y="190.5" width="10" height="10" fill="#00ff00"/>
<rect x="409.5" y="190.5" width="9" height="10" fill="#00ff00"/>
<rect x="418.5" y="190.5" width="10" height="10" fill="#00ff00"/>
<rect x="428.5" y="190.5" width="10" height="10" fill="#00ff00"/>
<rect x="438.5" y="191.5" width="10" height="9" fill="#00ff00"/>
<rect x="448.5" y="191.5" width="10" height="9" fill="#00ff00"/>
<rect x="458.5" y="191.5" width="10" height="9" fill="#00ff00"/>
<rect x="468.5" y="191.5" width="9" height="9" fill="#00ff00"/>
<rect x="477.5" y="191.5" width="10" height="10" fill="#00ff00"/>
<rect x="487.5" y="191.5" width="10" height="10" fill="#00ff00"/>
<rect x="497.5" y="191.5" width="10" height="10" fill="#00ff00"/>
<rect x="507.5" y="191.5" width="10" height="10" fill="#00ff00"/>
<rect x="517.5" y="191.5" width="10" height="10" fill="#ffffff"/>
<rect x="527.5" y="191.5" width="9" height="10" fill="#00ff00"/>
<rect x="536.5" y="191.5" width="10" height="10" fill="#00ff00"/>
<rect x="546.5" y="191.5" width="10" height="10" fill="#00ff00"/>
<rect x="556.5" y="191.5" width="10" height="10" fill="#00ff00"/>
<rect x="566.5" y="191.5" width="10" height="10" fill="#00ff00"/>
<rect x="576.5" y="191.5" width="10" height="10" fill="#00ff00"/>
<rect x="586.5" y="191.5" width="9" height="10" fill="#00ff00"/>
<rect x="595.5" y="191.5" width="10" height="10" fill="#00ff00"/>
<rect x="605.5" y="191.5" width="10" height="10" fill="#00ff00"/>
<rect x="615.5" y="191.5" width="10" height="10" fill="#00ff00"/>
<rect x="625.5" y="191.5" width="10" height="10" fill="#00ff00"/>
<rect x="635.5" y="191.5" width="10" height="10" fill="#00ff00"/>
<rect x="645.5" y="191.5" width="9" height="10" fill="#ffffff"/>
<rect x="654.5" y="192.5" width="10" height="9" fill="#00ff00"/>
<rect x="664.5" y="192.5" width="10" height="9" fill="#00ff00"/>
<rect x="192.5" y="200.5" width="10" height="10" fill="#ffffff"/>
<rect x="202.5" y="200.5" width="10" height="10" fill="#fff" stroke="none"/>
<rect x="202.5" y="200.5" width="10" height="10" fill="url(#hx)"/>
<rect x="212.5" y="200.5" width="10" height="10" fill="#ff0000"/>
<rect x="222.5" y="200.5" width="10" height="10" fill="#00ff00"/>
<rect x="232.5" y="200.5" width="10" height="10" fill="#00ff00"/>
<rect x="242.5" y="200.5" width="9" height="10" fill="#55ffff"/>
<rect x="251.5" y="200.5" width="10" height="10" fill="#00ff00"/>
<rect x="261.5" y="200.5" width="10" height="10" fill="#00ff00"/>
<rect x="271.5" y="200.5" width="10" height="10" fill="#00ff00"/>
<rect x="281.5" y="200.5" width="10" height="10" fill="#00ff00"/>
<rect x="291.5" y="200.5" width="9" height="10" fill="#00ff00"/>
<rect x="300.5" y="200.5" width="10" height="10" fill="#00ff00"/>
<rect x="310.5" y="200.5" width="10" height="10" fill="#55ffff"/>
<rect x="320.5" y="200.5" width="10" height="10" fill="#00ff00"/>
<rect x="330.5" y="200.5" width="10" height="10" fill="#00ff00"/>
<rect x="340.5" y="200.5" width="10" height="10" fill="#00ff00"/>
<rect x="350.5" y="200.5" width="9" height="10" fill="#00ff00"/>
<rect x="359.5" y="200.5" width="10" height="10" fill="#00ff00"/>
<rect x="369.5" y="200.5" width="10" height="10" fill="#00ff00"/>
<rect x="379.5" y="200.5" width="10" height="10" fill="#00ff00"/>
<rect x="389.5" y="200.5" width="10" height="10" fill="#55ffff"/>
<rect x="399.5" y="200.5" width="10" height="10" fill="#ffff00"/>
<rect x="409.5" y="200.5" width="9" height="10" fill="#00ff00"/>
<rect x="418.5" y="200.5" width="10" height="10" fill="#00ff00"/>
<rect x="428.5" y="200.5" width="10" height="10" fill="#00ff00"/>
<rect x="438.5" y="200.5" width="10" height="10" fill="#00ff00"/>
<rect x="448.5" y="200.5" width="10" height="10" fill="#00ff00"/>
<rect x="458.5" y="200.5" width="10" height="10" fill="#ffffff"/>
<rect x="468.5" y="200.5" width="9" height="10" fill="#ffffff"/>
<rect x="477.5" y="201.5" width="10" height="9" fill="#00ff00"/>
<rect x="487.5" y="201.5" width="10" height="9" fill="#00ff00"/>
<rect x="497.5" y="201.5" width="10" height="9" fill="#00ff00"/>
<rect x="507.5" y="201.5" width="10" height="9" fill="#00ff00"/>
<rect x="517.5" y="201.5" width="10" height="10" fill="#00ff00"/>
<rect x="527.5" y="201.5" width="9" height="10" fill="#00ff00"/>
<rect x="536.5" y="201.5" width="10" height="10" fill="#00ff00"/>
<rect x="546.5" y="201.5" width="10" height="10" fill="#00ff00"/>
<rect x="556.5" y="201.5" width="10" height="10" fill="#00ff00"/>
<rect x="566.5" y="201.5" width="10" height="10" fill="#00ff00"/>
<rect x="576.5" y="201.5" width="10" height="10" fill="#00ff00"/>
<rect x="586.5" y="201.5" width="9" height="10" fill="#00ff00"/>
<rect x="595.5" y="201.5" width="10" height="10" fill="#00ff00"/>
<rect x="605.5" y="201.5" width="10" height="10" fill="#ff0000"/>
<rect x="615.5" y="201.5" width="10" height="10" fill="#fff" stroke="none"/>
<rect x="615.5" y="201.5" width="10" height="10" fill="url(#hx)"/>
<rect x="625.5" y="201.5" width="10" height="10" fill="#00ff00"/>
<rect x="635.5" y="201.5" width="10" height="10" fill="#00ff00"/>
<rect x="645.5" y="201.5" width="9" height="10" fill="#00ff00"/>
<rect x="654.5" y="201.5" width="10" height="10" fill="#ffffff"/>
<rect x="664.5" y="201.5" width="10" height="10" fill="#ffffff"/>
<rect x="173.5" y="210.5" width="9" height="10" fill="#ff0000"/>
<rect x="182.5" y="210.5" width="10" height="10" fill="#55ffff"/>
<rect x="192.5" y="210.5" width="10" height="10" fill="#ffffff"/>
<rect x="202.5" y="210.5" width="10" height="10" fill="#ffffff"/>
<rect x="212.5" y="210.5" width="10" height="10" fill="#00ff00"/>
<rect x="222.5" y="210.5" width="10" height="10" fill="#00ff00"/>
<rect x="232.5" y="210.5" width="10" height="10" fill="#00ff00"/>
<rect x="242.5" y="210.5" width="9" height="10" fill="#ffff00"/>
<rect x="251.5" y="210.5" width="10" height="10" fill="#00ff00"/>
<rect x="261.5" y="210.5" width="10" height="10" fill="#00ff00"/>
<rect x="271.5" y="210.5" width="10" height="10" fill="#00ff00"/>
<rect x="281.5" y="210.5" width="10" height="10" fill="#00ff00"/>
<rect x="291.5" y="210.5" width="10" height="10" fill="#00ff00"/>
<rect x="301.5" y="210.5" width="9" height="10" fill="#00ff00"/>
<rect x="310.5" y="210.5" width="10" height="10" fill="#00ff00"/>
<rect x="320.5" y="210.5" width="10" height="10" fill="#00ff00"/>
<rect x="330.5" y="210.5" width="10" height="10" fill="#00ff00"/>
<rect x="340.5" y="210.5" width="10" height="10" fill="#00ff00"/>
<rect x="350.5" y="210.5" width="9" height="10" fill="#00ff00"/>
<rect x="359.5" y="210.5" width="10" height="10" fill="#55ffff"/>
<rect x="369.5" y="210.5" width="10" height="10" fill="#ffffff"/>
<rect x="379.5" y="210.5" width="10" height="10" fill="#ffffff"/>
<rect x="389.5" y="210.5" width="10" height="10" fill="#00ff00"/>
<rect x="399.5" y="210.5" width="10" height="10" fill="#00ff00"/>
<rect x="409.5" y="210.5" width="9" height="10" fill="#00ff00"/>
<rect x="418.5" y="210.5" width="10" height="10" fill="#00ff00"/>
<rect x="428.5" y="210.5" width="10" height="10" fill="#00ff00"/>
<rect x="438.5" y="210.5" width="10" height="10" fill="#00ff00"/>
<rect x="448.5" y="210.5" width="10" height="10" fill="#00ff00"/>
<rect x="458.5" y="210.5" width="10" height="10" fill="#55ffff"/>
<rect x="468.5" y="210.5" width="9" height="10" fill="#ffffff"/>
<rect x="477.5" y="210.5" width="10" height="10" fill="#00ff00"/>
<rect x="487.5" y="210.5" width="10" height="10" fill="#00ff00"/>
<rect x="497.5" y="210.5" width="10" height="10" fill="#00ff00"/>
<rect x="507.5" y="210.5" width="10" height="10" fill="#ffffff"/>
<rect x="517.5" y="211.5" width="10" height="9" fill="#00ff00"/>
<rect x="527.5" y="211.5" width="9" height="9" fill="#00ff00"/>
<rect x="536.5" y="211.5" width="10" height="9" fill="#00ff00"/>
<rect x="546.5" y="211.5" width="10" height="10" fill="#00ff00"/>
<rect x="556.5" y="211.5" width="10" height="10" fill="#00ff00"/>
<rect x="566.5" y="211.5" width="10" height="10" fill="#00ff00"/>
<rect x="576.5" y="211.5" width="10" height="10" fill="#00ff00"/>
<rect x="586.5" y="211.5" width="9" height="10" fill="#55ffff"/>
<rect x="595.5" y="211.5" width="10" height="10" fill="#55ffff"/>
<rect x="605.5" y="211.5" width="10" height="10" fill="#00ff00"/>
<rect x="615.5" y="211.5" width="10" height="10" fill="#ffffff"/>
<rect x="625.5" y="211.5" width="10" height="10" fill="#00ff00"/>
<rect x="635.5" y="211.5" width="10" height="10" fill="#ffff00"/>
<rect x="645.5" y="211.5" width="9" height="10" fill="#ffffff"/>
<rect x="654.5" y="211.5" width="10" height="10" fill="#ffffff"/>
<rect x="163.5" y="220.5" width="10" height="10" fill="#ffffff"/>
<rect x="173.5" y="220.5" width="9" height="10" fill="#ffffff"/>
<rect x="182.5" y="220.5" width="10" height="10" fill="#ff0000"/>
<rect x="192.5" y="220.5" width="10" height="10" fill="#ffffff"/>
<rect x="202.5" y="220.5" width="10" height="10" fill="#ffffff"/>
<rect x="212.5" y="220.5" width="10" height="10" fill="#00ff00"/>
<rect x="222.5" y="220.5" width="10" height="10" fill="#ffffff"/>
<rect x="232.5" y="220.5" width="10" height="10" fill="#00ff00"/>
<rect x="242.5" y="220.5" width="9" height="10" fill="#00ff00"/>
<rect x="251.5" y="220.5" width="10" height="10" fill="#00ff00"/>
<rect x="261.5" y="220.5" width="10" height="10" fill="#00ff00"/>
<rect x="271.5" y="220.5" width="10" height="10" fill="#00ff00"/>
<rect x="281.5" y="220.5" width="10" height="10" fill="#00ff00"/>
<rect x="291.5" y="220.5" width="10" height="10" fill="#00ff00"/>
<rect x="301.5" y="220.5" width="9" height="10" fill="#55ffff"/>
<rect x="310.5" y="220.5" width="10" height="10" fill="#55ffff"/>
<rect x="320.5" y="220.5" width="10" height="10" fill="#00ff00"/>
<rect x="330.5" y="220.5" width="10" height="10" fill="#00ff00"/>
<rect x="340.5" y="220.5" width="10" height="10" fill="#00ff00"/>
<rect x="350.5" y="220.5" width="9" height="10" fill="#00ff00"/>
<rect x="359.5" y="220.5" width="10" height="10" fill="#00ff00"/>
<rect x="369.5" y="220.5" width="10" height="10" fill="#00ff00"/>
<rect x="379.5" y="220.5" width="10" height="10" fill="#00ff00"/>
<rect x="389.5" y="220.5" width="10" height="10" fill="#00ff00"/>
<rect x="399.5" y="220.5" width="10" height="10" fill="#55ffff"/>
<rect x="409.5" y="220.5" width="9" height="10" fill="#00ff00"/>
<rect x="418.5" y="220.5" width="10" height="10" fill="#ffffff"/>
<rect x="428.5" y="220.5" width="10" height="10" fill="#00ff00"/>
<rect x="438.5" y="220.5" width="10" height="10" fill="#ffffff"/>
<rect x="448.5" y="220.5" width="10" height="10" fill="#00ff00"/>
<rect x="458.5" y="220.5" width="10" height="10" fill="#00ff00"/>
<rect x="468.5" y="220.5" width="9" height="10" fill="#00ff00"/>
<rect x="477.5" y="220.5" width="10" height="10" fill="#00ff00"/>
<rect x="487.5" y="220.5" width="10" height="10" fill="#00ff00"/>
<rect x="497.5" y="220.5" width="10" height="10" fill="#00ff00"/>
<rect x="507.5" y="220.5" width="10" height="10" fill="#ffffff"/>
<rect x="517.5" y="220.5" width="10" height="10" fill="#00ff00"/>
<rect x="527.5" y="220.5" width="9" height="10" fill="#00ff00"/>
<rect x="536.5" y="220.5" width="10" height="10" fill="#00ff00"/>
<rect x="546.5" y="221.5" width="10" height="9" fill="#ffffff"/>
<rect x="556.5" y="221.5" width="10" height="9" fill="#00ff00"/>
<rect x="566.5" y="221.5" width="10" height="9" fill="#00ff00"/>
<rect x="576.5" y="221.5" width="10" height="10" fill="#ff0000"/>
<rect x="586.5" y="221.5" width="9" height="10" fill="#00ff00"/>
<rect x="595.5" y="221.5" width="10" height="10" fill="#00ff00"/>
<rect x="605.5" y="221.5" width="10" height="10" fill="#00ff00"/>
<rect x="615.5" y="221.5" width="10" height="10" fill="#55ffff"/>
<rect x="625.5" y="221.5" width="10" height="10" fill="#00ff00"/>
<rect x="635.5" y="221.5" width="10" height="10" fill="#55ffff"/>
<rect x="645.5" y="221.5" width="9" height="10" fill="#00ff00"/>
<rect x="654.5" y="221.5" width="10" height="10" fill="#55ffff"/>
<rect x="153.5" y="230.5" width="10" height="10" fill="#ffffff"/>
<rect x="163.5" y="230.5" width="10" height="10" fill="#ffffff"/>
<rect x="173.5" y="230.5" width="9" height="10" fill="#55ffff"/>
<rect x="182.5" y="230.5" width="10" height="10" fill="#00ff00"/>
<rect x="192.5" y="230.5" width="10" height="10" fill="#55ffff"/>
<rect x="202.5" y="230.5" width="10" height="10" fill="#55ffff"/>
<rect x="212.5" y="230.5" width="10" height="10" fill="#00ff00"/>
<rect x="222.5" y="230.5" width="10" height="10" fill="#00ff00"/>
<rect x="232.5" y="230.5" width="10" height="10" fill="#00ff00"/>
<rect x="242.5" y="230.5" width="9" height="10" fill="#00ff00"/>
<rect x="251.5" y="230.5" width="10" height="10" fill="#00ff00"/>
<rect x="261.5" y="230.5" width="10" height="10" fill="#55ffff"/>
<rect x="271.5" y="230.5" width="10" height="10" fill="#ff0000"/>
<rect x="281.5" y="230.5" width="10" height="10" fill="#55ffff"/>
<rect x="291.5" y="230.5" width="10" height="10" fill="#00ff00"/>
<rect x="301.5" y="230.5" width="9" height="10" fill="#55ffff"/>
<rect x="310.5" y="230.5" width="10" height="10" fill="#ffffff"/>
<rect x="320.5" y="230.5" width="10" height="10" fill="#00ff00"/>
<rect x="330.5" y="230.5" width="10" height="10" fill="#00ff00"/>
<rect x="340.5" y="230.5" width="10" height="10" fill="#00ff00"/>
<rect x="350.5" y="230.5" width="9" height="10" fill="#fff" stroke="none"/>
<rect x="350.5" y="230.5" width="9" height="10" fill="url(#hx)"/>
<rect x="359.5" y="230.5" width="10" height="10" fill="#ffffff"/>
<rect x="369.5" y="230.5" width="10" height="10" fill="#00ff00"/>
<rect x="379.5" y="230.5" width="10" height="10" fill="#00ff00"/>
<rect x="389.5" y="230.5" width="10" height="10" fill="#00ff00"/>
<rect x="399.5" y="230.5" width="10" height="10" fill="#00ff00"/>
<rect x="409.5" y="230.5" width="9" height="10" fill="#00ff00"/>
<rect x="418.5" y="230.5" width="10" height="10" fill="#ffffff"/>
<rect x="428.5" y="230.5" width="10" height="10" fill="#00ff00"/>
<rect x="438.5" y="230.5" width="10" height="10" fill="#ffffff"/>
<rect x="448.5" y="230.5" width="10" height="10" fill="#ffffff"/>
<rect x="458.5" y="230.5" width="10" height="10" fill="#55ffff"/>
<rect x="468.5" y="230.5" width="9" height="10" fill="#00ff00"/>
<rect x="477.5" y="230.5" width="10" height="10" fill="#00ff00"/>
<rect x="487.5" y="230.5" width="10" height="10" fill="#00ff00"/>
<rect x="497.5" y="230.5" width="10" height="10" fill="#00ff00"/>
<rect x="507.5" y="230.5" width="10" height="10" fill="#00ff00"/>
<rect x="517.5" y="230.5" width="10" height="10" fill="#00ff00"/>
<rect x="527.5" y="230.5" width="9" height="10" fill="#00ff00"/>
<rect x="536.5" y="230.5" width="10" height="10" fill="#00ff00"/>
<rect x="546.5" y="230.5" width="10" height="10" fill="#00ff00"/>
<rect x="556.5" y="230.5" width="10" height="10" fill="#00ff00"/>
<rect x="566.5" y="230.5" width="10" height="10" fill="#00ff00"/>
<rect x="576.5" y="231.5" width="10" height="9" fill="#00ff00"/>
<rect x="586.5" y="231.5" width="9" height="9" fill="#00ff00"/>
<rect x="595.5" y="231.5" width="10" height="10" fill="#00ff00"/>
<rect x="605.5" y="231.5" width="10" height="10" fill="#00ff00"/>
<rect x="615.5" y="231.5" width="10" height="10" fill="#00ff00"/>
<rect x="625.5" y="231.5" width="10" height="10" fill="#55ffff"/>
<rect x="635.5" y="231.5" width="10" height="10" fill="#00ff00"/>
<rect x="645.5" y="231.5" width="9" height="10" fill="#00ff00"/>
<rect x="654.5" y="231.5" width="10" height="10" fill="#ffffff"/>
<rect x="163.5" y="240.5" width="10" height="10" fill="#ffffff"/>
<rect x="173.5" y="240.5" width="10" height="10" fill="#ffffff"/>
<rect x="183.5" y="240.5" width="9" height="10" fill="#ffffff"/>
<rect x="192.5" y="240.5" width="10" height="10" fill="#ffffff"/>
<rect x="202.5" y="240.5" width="10" height="10" fill="#00ff00"/>
<rect x="212.5" y="240.5" width="10" height="10" fill="#00ff00"/>
<rect x="222.5" y="240.5" width="10" height="10" fill="#00ff00"/>
<rect x="232.5" y="240.5" width="10" height="10" fill="#00ff00"/>
<rect x="242.5" y="240.5" width="9" height="10" fill="#00ff00"/>
<rect x="251.5" y="240.5" width="10" height="10" fill="#55ffff"/>
<rect x="261.5" y="240.5" width="10" height="10" fill="#00ff00"/>
<rect x="271.5" y="240.5" width="10" height="10" fill="#00ff00"/>
<rect x="281.5" y="240.5" width="10" height="10" fill="#ffffff"/>
<rect x="291.5" y="240.5" width="10" height="10" fill="#ffffff"/>
<rect x="301.5" y="240.5" width="9" height="10" fill="#55ffff"/>
<rect x="310.5" y="240.5" width="10" height="10" fill="#00ff00"/>
<rect x="320.5" y="240.5" width="10" height="10" fill="#55ffff"/>
<rect x="330.5" y="240.5" width="10" height="10" fill="#00ff00"/>
<rect x="340.5" y="240.5" width="10" height="10" fill="#00ff00"/>
<rect x="350.5" y="240.5" width="9" height="10" fill="#00ff00"/>
<rect x="359.5" y="240.5" width="10" height="10" fill="#ffffff"/>
<rect x="369.5" y="240.5" width="10" height="10" fill="#00ff00"/>
<rect x="379.5" y="240.5" width="10" height="10" fill="#55ffff"/>
<rect x="389.5" y="240.5" width="10" height="10" fill="#00ff00"/>
<rect x="399.5" y="240.5" width="10" height="10" fill="#00ff00"/>
<rect x="409.5" y="240.5" width="9" height="10" fill="#00ff00"/>
<rect x="418.5" y="240.5" width="10" height="10" fill="#00ff00"/>
<rect x="428.5" y="240.5" width="10" height="10" fill="#ffffff"/>
<rect x="438.5" y="240.5" width="10" height="10" fill="#00ff00"/>
<rect x="448.5" y="240.5" width="10" height="10" fill="#55ffff"/>
<rect x="458.5" y="240.5" width="10" height="10" fill="#ffffff"/>
<rect x="468.5" y="240.5" width="9" height="10" fill="#00ff00"/>
<rect x="477.5" y="240.5" width="10" height="10" fill="#00ff00"/>
<rect x="487.5" y="240.5" width="10" height="10" fill="#00ff00"/>
<rect x="497.5" y="240.5" width="10" height="10" fill="#00ff00"/>
<rect x="507.5" y="240.5" width="10" height="10" fill="#00ff00"/>
<rect x="517.5" y="240.5" width="10" height="10" fill="#00ff00"/>
<rect x="527.5" y="240.5" width="9" height="10" fill="#00ff00"/>
<rect x="536.5" y="240.5" width="10" height="10" fill="#00ff00"/>
<rect x="546.5" y="240.5" width="10" height="10" fill="#00ff00"/>
<rect x="556.5" y="240.5" width="10" height="10" fill="#00ff00"/>
<rect x="566.5" y="240.5" width="10" height="10" fill="#00ff00"/>
<rect x="576.5" y="240.5" width="10" height="10" fill="#00ff00"/>
<rect x="586.5" y="240.5" width="9" height="10" fill="#00ff00"/>
<rect x="595.5" y="241.5" width="10" height="9" fill="#00ff00"/>
<rect x="605.5" y="241.5" width="10" height="9" fill="#00ff00"/>
<rect x="615.5" y="241.5" width="10" height="10" fill="#ffffff"/>
<rect x="625.5" y="241.5" width="10" height="10" fill="#00ff00"/>
<rect x="635.5" y="241.5" width="10" height="10" fill="#00ff00"/>
<rect x="645.5" y="241.5" width="9" height="10" fill="#00ff00"/>
<rect x="654.5" y="241.5" width="10" height="10" fill="#ffffff"/>
<rect x="202.5" y="250.5" width="10" height="10" fill="#ffffff"/>
<rect x="212.5" y="250.5" width="10" height="10" fill="#00ff00"/>
<rect x="222.5" y="250.5" width="10" height="10" fill="#55ffff"/>
<rect x="232.5" y="250.5" width="10" height="10" fill="#00ff00"/>
<rect x="242.5" y="250.5" width="9" height="10" fill="#00ff00"/>
<rect x="251.5" y="250.5" width="10" height="10" fill="#55ffff"/>
<rect x="261.5" y="250.5" width="10" height="10" fill="#ff0000"/>
<rect x="271.5" y="250.5" width="10" height="10" fill="#00ff00"/>
<rect x="281.5" y="250.5" width="10" height="9" fill="#55ffff"/>
<rect x="291.5" y="250.5" width="10" height="9" fill="#00ff00"/>
<rect x="301.5" y="250.5" width="9" height="9" fill="#00ff00"/>
<rect x="310.5" y="250.5" width="10" height="9" fill="#ffffff"/>
<rect x="320.5" y="250.5" width="10" height="9" fill="#00ff00"/>
<rect x="330.5" y="250.5" width="10" height="9" fill="#00ff00"/>
<rect x="340.5" y="250.5" width="10" height="9" fill="#ffffff"/>
<rect x="350.5" y="250.5" width="9" height="9" fill="#00ff00"/>
<rect x="359.5" y="250.5" width="10" height="10" fill="#00ff00"/>
<rect x="369.5" y="250.5" width="10" height="10" fill="#00ff00"/>
<rect x="379.5" y="250.5" width="10" height="10" fill="#00ff00"/>
<rect x="389.5" y="250.5" width="10" height="10" fill="#00ff00"/>
<rect x="399.5" y="250.5" width="10" height="10" fill="#00ff00"/>
<rect x="409.5" y="250.5" width="9" height="10" fill="#ffff00"/>
<rect x="418.5" y="250.5" width="10" height="10" fill="#00ff00"/>
<rect x="428.5" y="250.5" width="10" height="10" fill="#00ff00"/>
<rect x="438.5" y="250.5" width="10" height="10" fill="#00ff00"/>
<rect x="448.5" y="250.5" width="10" height="10" fill="#00ff00"/>
<rect x="458.5" y="250.5" width="10" height="10" fill="#55ffff"/>
<rect x="468.5" y="250.5" width="9" height="10" fill="#00ff00"/>
<rect x="477.5" y="250.5" width="10" height="10" fill="#ffffff"/>
<rect x="487.5" y="250.5" width="10" height="10" fill="#fff" stroke="none"/>
<rect x="487.5" y="250.5" width="10" height="10" fill="url(#hx)"/>
<rect x="497.5" y="250.5" width="10" height="10" fill="#00ff00"/>
<rect x="507.5" y="250.5" width="10" height="10" fill="#00ff00"/>
<rect x="517.5" y="250.5" width="10" height="10" fill="#00ff00"/>
<rect x="527.5" y="250.5" width="9" height="10" fill="#00ff00"/>
<rect x="536.5" y="250.5" width="10" height="10" fill="#ffff00"/>
<rect x="546.5" y="250.5" width="10" height="10" fill="#00ff00"/>
<rect x="556.5" y="250.5" width="10" height="10" fill="#00ff00"/>
<rect x="566.5" y="250.5" width="10" height="10" fill="#00ff00"/>
<rect x="576.5" y="250.5" width="10" height="10" fill="#00ff00"/>
<rect x="586.5" y="250.5" width="9" height="10" fill="#ffffff"/>
<rect x="595.5" y="250.5" width="10" height="10" fill="#00ff00"/>
<rect x="605.5" y="250.5" width="10" height="10" fill="#00ff00"/>
<rect x="615.5" y="251.5" width="10" height="9" fill="#00ff00"/>
<rect x="625.5" y="251.5" width="10" height="9" fill="#ffffff"/>
<rect x="635.5" y="251.5" width="10" height="9" fill="#ffffff"/>
<rect x="645.5" y="251.5" width="9" height="10" fill="#ffffff"/>
<rect x="212.5" y="260.5" width="10" height="9" fill="#ffffff"/>
<rect x="222.5" y="260.5" width="10" height="9" fill="#00ff00"/>
<rect x="232.5" y="260.5" width="10" height="9" fill="#00ff00"/>
<rect x="242.5" y="260.5" width="9" height="9" fill="#ffffff"/>
<rect x="251.5" y="260.5" width="10" height="9" fill="#00ff00"/>
<rect x="261.5" y="260.5" width="10" height="9" fill="#ffffff"/>
<rect x="271.5" y="260.5" width="10" height="9" fill="#00ff00"/>
<rect x="281.5" y="259.5" width="10" height="10" fill="#ff0000"/>
<rect x="291.5" y="259.5" width="10" height="10" fill="#ff0000"/>
<rect x="301.5" y="259.5" width="9" height="10" fill="#ffff00"/>
<rect x="310.5" y="259.5" width="10" height="10" fill="#ffffff"/>
<rect x="320.5" y="259.5" width="10" height="10" fill="#00ff00"/>
<rect x="330.5" y="259.5" width="10" height="10" fill="#ffff00"/>
<rect x="340.5" y="259.5" width="10" height="10" fill="#00ff00"/>
<rect x="350.5" y="259.5" width="9" height="10" fill="#00ff00"/>
<rect x="359.5" y="260.5" width="10" height="9" fill="#00ff00"/>
<rect x="369.5" y="260.5" width="10" height="9" fill="#ffffff"/>
<rect x="379.5" y="260.5" width="10" height="9" fill="#ffffff"/>
<rect x="389.5" y="260.5" width="10" height="9" fill="#ffffff"/>
<rect x="399.5" y="260.5" width="10" height="9" fill="#00ff00"/>
<rect x="409.5" y="260.5" width="9" height="9" fill="#00ff00"/>
<rect x="418.5" y="260.5" width="10" height="9" fill="#ff0000"/>
<rect x="428.5" y="260.5" width="10" height="9" fill="#00ff00"/>
<rect x="438.5" y="260.5" width="10" height="10" fill="#00ff00"/>
<rect x="448.5" y="260.5" width="10" height="10" fill="#55ffff"/>
<rect x="458.5" y="260.5" width="10" height="10" fill="#55ffff"/>
<rect x="468.5" y="260.5" width="9" height="10" fill="#00ff00"/>
<rect x="477.5" y="260.5" width="10" height="10" fill="#fff" stroke="none"/>
<rect x="477.5" y="260.5" width="10" height="10" fill="url(#hx)"/>
<rect x="487.5" y="260.5" width="10" height="10" fill="#fff" stroke="none"/>
<rect x="487.5" y="260.5" width="10" height="10" fill="url(#hx)"/>
<rect x="497.5" y="260.5" width="10" height="10" fill="#55ffff"/>
<rect x="507.5" y="260.5" width="10" height="10" fill="#ffffff"/>
<rect x="517.5" y="260.5" width="10" height="10" fill="#55ffff"/>
<rect x="527.5" y="260.5" width="9" height="10" fill="#00ff00"/>
<rect x="536.5" y="260.5" width="10" height="10" fill="#ffffff"/>
<rect x="546.5" y="260.5" width="10" height="10" fill="#ffffff"/>
<rect x="556.5" y="260.5" width="10" height="10" fill="#00ff00"/>
<rect x="566.5" y="260.5" width="10" height="10" fill="#00ff00"/>
<rect x="576.5" y="260.5" width="10" height="10" fill="#00ff00"/>
<rect x="586.5" y="260.5" width="9" height="10" fill="#00ff00"/>
<rect x="595.5" y="260.5" width="10" height="10" fill="#00ff00"/>
<rect x="605.5" y="260.5" width="10" height="10" fill="#00ff00"/>
<rect x="615.5" y="260.5" width="10" height="10" fill="#00ff00"/>
<rect x="625.5" y="260.5" width="10" height="10" fill="#ffffff"/>
<rect x="222.5" y="269.5" width="10" height="10" fill="#00ff00"/>
<rect x="232.5" y="269.5" width="10" height="10" fill="#55ffff"/>
<rect x="242.5" y="269.5" width="9" height="10" fill="#00ff00"/>
<rect x="251.5" y="269.5" width="10" height="10" fill="#55ffff"/>
<rect x="261.5" y="269.5" width="10" height="10" fill="#00ff00"/>
<rect x="271.5" y="269.5" width="10" height="10" fill="#00ff00"/>
<rect x="281.5" y="269.5" width="10" height="10" fill="#00ff00"/>
<rect x="291.5" y="269.5" width="10" height="10" fill="#00ff00"/>
<rect x="301.5" y="269.5" width="9" height="10" fill="#00ff00"/>
<rect x="310.5" y="269.5" width="10" height="10" fill="#00ff00"/>
<rect x="320.5" y="269.5" width="10" height="10" fill="#55ffff"/>
<rect x="330.5" y="269.5" width="10" height="10" fill="#00ff00"/>
<rect x="340.5" y="269.5" width="10" height="10" fill="#00ff00"/>
<rect x="350.5" y="269.5" width="10" height="10" fill="#00ff00"/>
<rect x="360.5" y="269.5" width="9" height="10" fill="#55ffff"/>
<rect x="369.5" y="269.5" width="10" height="10" fill="#00ff00"/>
<rect x="379.5" y="269.5" width="10" height="10" fill="#00ff00"/>
<rect x="389.5" y="269.5" width="10" height="10" fill="#00ff00"/>
<rect x="399.5" y="269.5" width="10" height="10" fill="#00ff00"/>
<rect x="409.5" y="269.5" width="9" height="10" fill="#fff" stroke="none"/>
<rect x="409.5" y="269.5" width="9" height="10" fill="url(#hx)"/>
<rect x="418.5" y="269.5" width="10" height="10" fill="#ffffff"/>
<rect x="428.5" y="269.5" width="10" height="10" fill="#00ff00"/>
<rect x="438.5" y="270.5" width="10" height="9" fill="#00ff00"/>
<rect x="448.5" y="270.5" width="10" height="9" fill="#00ff00"/>
<rect x="458.5" y="270.5" width="10" height="9" fill="#00ff00"/>
<rect x="468.5" y="270.5" width="9" height="9" fill="#00ff00"/>
<rect x="477.5" y="270.5" width="10" height="9" fill="#00ff00"/>
<rect x="487.5" y="270.5" width="10" height="10" fill="#fff" stroke="none"/>
<rect x="487.5" y="270.5" width="10" height="10" fill="url(#hx)"/>
<rect x="497.5" y="270.5" width="10" height="10" fill="#00ff00"/>
<rect x="507.5" y="270.5" width="10" height="10" fill="#00ff00"/>
<rect x="517.5" y="270.5" width="10" height="10" fill="#00ff00"/>
<rect x="527.5" y="270.5" width="9" height="10" fill="#00ff00"/>
<rect x="536.5" y="270.5" width="10" height="10" fill="#55ffff"/>
<rect x="546.5" y="270.5" width="10" height="10" fill="#00ff00"/>
<rect x="556.5" y="270.5" width="10" height="10" fill="#55ffff"/>
<rect x="566.5" y="270.5" width="10" height="10" fill="#00ff00"/>
<rect x="576.5" y="270.5" width="10" height="10" fill="#00ff00"/>
<rect x="586.5" y="270.5" width="9" height="10" fill="#00ff00"/>
<rect x="595.5" y="270.5" width="10" height="10" fill="#00ff00"/>
<rect x="605.5" y="270.5" width="10" height="10" fill="#00ff00"/>
<rect x="615.5" y="270.5" width="10" height="10" fill="#ffffff"/>
<rect x="232.5" y="279.5" width="10" height="10" fill="#00ff00"/>
<rect x="242.5" y="279.5" width="9" height="10" fill="#ffffff"/>
<rect x="251.5" y="279.5" width="10" height="10" fill="#fff" stroke="none"/>
<rect x="251.5" y="279.5" width="10" height="10" fill="url(#hx)"/>
<rect x="261.5" y="279.5" width="10" height="10" fill="#ff0000"/>
<rect x="271.5" y="279.5" width="10" height="10" fill="#00ff00"/>
<rect x="281.5" y="279.5" width="10" height="10" fill="#ff0000"/>
<rect x="291.5" y="279.5" width="10" height="10" fill="#55ffff"/>
<rect x="301.5" y="279.5" width="9" height="10" fill="#ffffff"/>
<rect x="310.5" y="279.5" width="10" height="10" fill="#ffffff"/>
<rect x="320.5" y="279.5" width="10" height="10" fill="#00ff00"/>
<rect x="330.5" y="279.5" width="10" height="10" fill="#55ffff"/>
<rect x="340.5" y="279.5" width="10" height="10" fill="#55ffff"/>
<rect x="350.5" y="279.5" width="10" height="10" fill="#ffffff"/>
<rect x="360.5" y="279.5" width="9" height="10" fill="#55ffff"/>
<rect x="369.5" y="279.5" width="10" height="10" fill="#00ff00"/>
<rect x="379.5" y="279.5" width="10" height="10" fill="#00ff00"/>
<rect x="389.5" y="279.5" width="10" height="10" fill="#00ff00"/>
<rect x="399.5" y="279.5" width="10" height="10" fill="#00ff00"/>
<rect x="409.5" y="279.5" width="9" height="10" fill="#00ff00"/>
<rect x="418.5" y="279.5" width="10" height="10" fill="#00ff00"/>
<rect x="428.5" y="279.5" width="10" height="10" fill="#00ff00"/>
<rect x="438.5" y="279.5" width="10" height="10" fill="#00ff00"/>
<rect x="448.5" y="279.5" width="10" height="10" fill="#55ffff"/>
<rect x="458.5" y="279.5" width="10" height="10" fill="#00ff00"/>
<rect x="468.5" y="279.5" width="9" height="10" fill="#00ff00"/>
<rect x="477.5" y="279.5" width="10" height="10" fill="#00ff00"/>
<rect x="487.5" y="280.5" width="10" height="9" fill="#00ff00"/>
<rect x="497.5" y="280.5" width="10" height="9" fill="#ff0000"/>
<rect x="507.5" y="280.5" width="10" height="9" fill="#00ff00"/>
<rect x="517.5" y="280.5" width="10" height="10" fill="#55ffff"/>
<rect x="527.5" y="280.5" width="9" height="10" fill="#55ffff"/>
<rect x="536.5" y="280.5" width="10" height="10" fill="#ff0000"/>
<rect x="546.5" y="280.5" width="10" height="10" fill="#00ff00"/>
<rect x="556.5" y="280.5" width="10" height="10" fill="#55ffff"/>
<rect x="566.5" y="280.5" width="10" height="10" fill="#00ff00"/>
<rect x="576.5" y="280.5" width="10" height="10" fill="#00ff00"/>
<rect x="586.5" y="280.5" width="9" height="10" fill="#00ff00"/>
<rect x="595.5" y="280.5" width="10" height="10" fill="#00ff00"/>
<rect x="605.5" y="280.5" width="10" height="10" fill="#00ff00"/>
<rect x="232.5" y="289.5" width="10" height="10" fill="#ffffff"/>
<rect x="242.5" y="289.5" width="10" height="10" fill="#55ffff"/>
<rect x="252.5" y="289.5" width="9" height="10" fill="#ff0000"/>
<rect x="261.5" y="289.5" width="10" height="10" fill="#ffff00"/>
<rect x="271.5" y="289.5" width="10" height="10" fill="#ffff00"/>
<rect x="281.5" y="289.5" width="10" height="10" fill="#ffff00"/>
<rect x="291.5" y="289.5" width="10" height="10" fill="#00ff00"/>
<rect x="301.5" y="289.5" width="9" height="10" fill="#ff0000"/>
<rect x="310.5" y="289.5" width="10" height="10" fill="#00ff00"/>
<rect x="320.5" y="289.5" width="10" height="10" fill="#55ffff"/>
<rect x="330.5" y="289.5" width="10" height="10" fill="#00ff00"/>
<rect x="340.5" y="289.5" width="10" height="10" fill="#00ff00"/>
<rect x="350.5" y="289.5" width="10" height="10" fill="#00ff00"/>
<rect x="360.5" y="289.5" width="9" height="10" fill="#00ff00"/>
<rect x="369.5" y="289.5" width="10" height="10" fill="#00ff00"/>
<rect x="379.5" y="289.5" width="10" height="10" fill="#55ffff"/>
<rect x="389.5" y="289.5" width="10" height="10" fill="#00ff00"/>
<rect x="399.5" y="289.5" width="10" height="10" fill="#00ff00"/>
<rect x="409.5" y="289.5" width="9" height="10" fill="#00ff00"/>
<rect x="418.5" y="289.5" width="10" height="10" fill="#00ff00"/>
<rect x="428.5" y="289.5" width="10" height="10" fill="#00ff00"/>
<rect x="438.5" y="289.5" width="10" height="10" fill="#00ff00"/>
<rect x="448.5" y="289.5" width="10" height="10" fill="#00ff00"/>
<rect x="458.5" y="289.5" width="10" height="10" fill="#00ff00"/>
<rect x="468.5" y="289.5" width="9" height="10" fill="#00ff00"/>
<rect x="477.5" y="289.5" width="10" height="10" fill="#00ff00"/>
<rect x="487.5" y="289.5" width="10" height="10" fill="#00ff00"/>
<rect x="497.5" y="289.5" width="10" height="10" fill="#00ff00"/>
<rect x="507.5" y="289.5" width="10" height="10" fill="#00ff00"/>
<rect x="517.5" y="290.5" width="10" height="9" fill="#00ff00"/>
<rect x="527.5" y="290.5" width="9" height="9" fill="#00ff00"/>
<rect x="536.5" y="290.5" width="10" height="9" fill="#00ff00"/>
<rect x="546.5" y="290.5" width="10" height="10" fill="#fff" stroke="none"/>
<rect x="546.5" y="290.5" width="10" height="10" fill="url(#hx)"/>
<rect x="556.5" y="290.5" width="10" height="10" fill="#ffffff"/>
<rect x="566.5" y="290.5" width="10" height="10" fill="#fff" stroke="none"/>
<rect x="566.5" y="290.5" width="10" height="10" fill="url(#hx)"/>
<rect x="576.5" y="290.5" width="10" height="10" fill="#00ff00"/>
<rect x="586.5" y="290.5" width="9" height="10" fill="#00ff00"/>
<rect x="595.5" y="290.5" width="10" height="10" fill="#fff" stroke="none"/>
<rect x="595.5" y="290.5" width="10" height="10" fill="url(#hx)"/>
<rect x="605.5" y="290.5" width="10" height="10" fill="#fff" stroke="none"/>
<rect x="605.5" y="290.5" width="10" height="10" fill="url(#hx)"/>
<rect x="615.5" y="290.5" width="10" height="10" fill="#ffffff"/>
<rect x="242.5" y="299.5" width="10" height="10" fill="#fff" stroke="none"/>
<rect x="242.5" y="299.5" width="10" height="10" fill="url(#hx)"/>
<rect x="252.5" y="299.5" width="9" height="10" fill="#ffffff"/>
<rect x="261.5" y="299.5" width="10" height="10" fill="#ffffff"/>
<rect x="271.5" y="299.5" width="10" height="10" fill="#ffffff"/>
<rect x="281.5" y="299.5" width="10" height="10" fill="#55ffff"/>
<rect x="291.5" y="299.5" width="10" height="10" fill="#ffff00"/>
<rect x="301.5" y="299.5" width="9" height="10" fill="#ffff00"/>
<rect x="310.5" y="299.5" width="10" height="10" fill="#00ff00"/>
<rect x="320.5" y="299.5" width="10" height="10" fill="#55ffff"/>
<rect x="330.5" y="299.5" width="10" height="10" fill="#00ff00"/>
<rect x="340.5" y="299.5" width="10" height="10" fill="#00ff00"/>
<rect x="350.5" y="299.5" width="10" height="10" fill="#00ff00"/>
<rect x="360.5" y="299.5" width="9" height="10" fill="#00ff00"/>
<rect x="369.5" y="299.5" width="10" height="10" fill="#00ff00"/>
<rect x="379.5" y="299.5" width="10" height="10" fill="#55ffff"/>
<rect x="389.5" y="299.5" width="10" height="10" fill="#00ff00"/>
<rect x="399.5" y="299.5" width="10" height="10" fill="#ffff00"/>
<rect x="409.5" y="299.5" width="9" height="10" fill="#00ff00"/>
<rect x="418.5" y="299.5" width="10" height="10" fill="#00ff00"/>
<rect x="428.5" y="299.5" width="10" height="10" fill="#00ff00"/>
<rect x="438.5" y="299.5" width="10" height="10" fill="#00ff00"/>
<rect x="448.5" y="299.5" width="10" height="10" fill="#00ff00"/>
<rect x="458.5" y="299.5" width="10" height="10" fill="#ffffff"/>
<rect x="468.5" y="299.5" width="9" height="10" fill="#00ff00"/>
<rect x="477.5" y="299.5" width="10" height="10" fill="#00ff00"/>
<rect x="487.5" y="299.5" width="10" height="10" fill="#00ff00"/>
<rect x="497.5" y="299.5" width="10" height="10" fill="#ffffff"/>
<rect x="507.5" y="299.5" width="10" height="10" fill="#00ff00"/>
<rect x="517.5" y="299.5" width="10" height="10" fill="#00ff00"/>
<rect x="527.5" y="299.5" width="9" height="10" fill="#00ff00"/>
<rect x="536.5" y="299.5" width="10" height="10" fill="#ff0000"/>
<rect x="546.5" y="300.5" width="10" height="9" fill="#ffffff"/>
<rect x="556.5" y="300.5" width="10" height="9" fill="#ffffff"/>
<rect x="566.5" y="300.5" width="10" height="9" fill="#ffffff"/>
<rect x="576.5" y="300.5" width="10" height="10" fill="#ffffff"/>
<rect x="586.5" y="300.5" width="9" height="10" fill="#ffffff"/>
<rect x="595.5" y="300.5" width="10" height="10" fill="#ffffff"/>
<rect x="605.5" y="300.5" width="10" height="10" fill="#ffffff"/>
<rect x="615.5" y="300.5" width="10" height="10" fill="#ffffff"/>
<rect x="252.5" y="309.5" width="9" height="10" fill="#ff0000"/>
<rect x="261.5" y="309.5" width="10" height="10" fill="#ff0000"/>
<rect x="271.5" y="309.5" width="10" height="10" fill="#00ff00"/>
<rect x="281.5" y="309.5" width="10" height="10" fill="#55ffff"/>
<rect x="291.5" y="309.5" width="10" height="10" fill="#00ff00"/>
<rect x="301.5" y="309.5" width="9" height="10" fill="#00ff00"/>
<rect x="310.5" y="309.5" width="10" height="10" fill="#00ff00"/>
<rect x="320.5" y="309.5" width="10" height="10" fill="#ffff00"/>
<rect x="330.5" y="309.5" width="10" height="10" fill="#00ff00"/>
<rect x="340.5" y="309.5" width="10" height="10" fill="#00ff00"/>
<rect x="350.5" y="309.5" width="10" height="10" fill="#00ff00"/>
<rect x="360.5" y="309.5" width="9" height="10" fill="#00ff00"/>
<rect x="369.5" y="309.5" width="10" height="10" fill="#55ffff"/>
<rect x="379.5" y="309.5" width="10" height="10" fill="#00ff00"/>
<rect x="389.5" y="309.5" width="10" height="10" fill="#00ff00"/>
<rect x="399.5" y="309.5" width="10" height="10" fill="#00ff00"/>
<rect x="409.5" y="309.5" width="9" height="10" fill="#00ff00"/>
<rect x="418.5" y="309.5" width="10" height="10" fill="#00ff00"/>
<rect x="428.5" y="309.5" width="10" height="10" fill="#00ff00"/>
<rect x="438.5" y="309.5" width="10" height="10" fill="#00ff00"/>
<rect x="448.5" y="309.5" width="10" height="10" fill="#ffffff"/>
<rect x="458.5" y="309.5" width="10" height="10" fill="#00ff00"/>
<rect x="468.5" y="309.5" width="9" height="10" fill="#00ff00"/>
<rect x="477.5" y="309.5" width="10" height="10" fill="#00ff00"/>
<rect x="487.5" y="309.5" width="10" height="10" fill="#00ff00"/>
<rect x="497.5" y="309.5" width="10" height="10" fill="#00ff00"/>
<rect x="507.5" y="309.5" width="10" height="10" fill="#ffffff"/>
<rect x="252.5" y="319.5" width="9" height="10" fill="#55ffff"/>
<rect x="261.5" y="319.5" width="10" height="10" fill="#55ffff"/>
<rect x="271.5" y="319.5" width="10" height="10" fill="#55ffff"/>
<rect x="281.5" y="319.5" width="10" height="10" fill="#00ff00"/>
<rect x="291.5" y="319.5" width="10" height="10" fill="#00ff00"/>
<rect x="301.5" y="319.5" width="9" height="10" fill="#00ff00"/>
<rect x="310.5" y="319.5" width="10" height="10" fill="#00ff00"/>
<rect x="320.5" y="319.5" width="10" height="10" fill="#00ff00"/>
<rect x="330.5" y="319.5" width="10" height="10" fill="#00ff00"/>
<rect x="340.5" y="319.5" width="10" height="10" fill="#ffff00"/>
<rect x="350.5" y="319.5" width="10" height="10" fill="#00ff00"/>
<rect x="360.5" y="319.5" width="9" height="10" fill="#00ff00"/>
<rect x="369.5" y="319.5" width="10" height="10" fill="#00ff00"/>
<rect x="379.5" y="319.5" width="10" height="10" fill="#00ff00"/>
<rect x="389.5" y="319.5" width="10" height="10" fill="#00ff00"/>
<rect x="399.5" y="319.5" width="10" height="10" fill="#00ff00"/>
<rect x="409.5" y="319.5" width="9" height="10" fill="#00ff00"/>
<rect x="418.5" y="319.5" width="10" height="10" fill="#ffffff"/>
<rect x="428.5" y="319.5" width="10" height="10" fill="#00ff00"/>
<rect x="438.5" y="319.5" width="10" height="10" fill="#00ff00"/>
<rect x="448.5" y="319.5" width="10" height="10" fill="#00ff00"/>
<rect x="458.5" y="319.5" width="10" height="10" fill="#00ff00"/>
<rect x="468.5" y="319.5" width="9" height="10" fill="#00ff00"/>
<rect x="477.5" y="319.5" width="10" height="10" fill="#00ff00"/>
<rect x="487.5" y="319.5" width="10" height="10" fill="#00ff00"/>
<rect x="497.5" y="319.5" width="10" height="10" fill="#00ff00"/>
<rect x="507.5" y="319.5" width="10" height="10" fill="#ffffff"/>
<rect x="252.5" y="329.5" width="9" height="10" fill="#fff" stroke="none"/>
<rect x="252.5" y="329.5" width="9" height="10" fill="url(#hx)"/>
<rect x="261.5" y="329.5" width="10" height="10" fill="#ff0000"/>
<rect x="271.5" y="329.5" width="10" height="9" fill="#55ffff"/>
<rect x="281.5" y="329.5" width="10" height="9" fill="#55ffff"/>
<rect x="291.5" y="329.5" width="10" height="9" fill="#00ff00"/>
<rect x="301.5" y="329.5" width="9" height="9" fill="#00ff00"/>
<rect x="310.5" y="329.5" width="10" height="9" fill="#00ff00"/>
<rect x="320.5" y="329.5" width="10" height="9" fill="#55ffff"/>
<rect x="330.5" y="329.5" width="10" height="9" fill="#00ff00"/>
<rect x="340.5" y="329.5" width="10" height="9" fill="#00ff00"/>
<rect x="350.5" y="329.5" width="10" height="9" fill="#00ff00"/>
<rect x="360.5" y="329.5" width="9" height="10" fill="#00ff00"/>
<rect x="369.5" y="329.5" width="10" height="10" fill="#55ffff"/>
<rect x="379.5" y="329.5" width="10" height="10" fill="#00ff00"/>
<rect x="389.5" y="329.5" width="10" height="10" fill="#00ff00"/>
<rect x="399.5" y="329.5" width="10" height="10" fill="#00ff00"/>
<rect x="409.5" y="329.5" width="9" height="10" fill="#00ff00"/>
<rect x="418.5" y="329.5" width="10" height="10" fill="#00ff00"/>
<rect x="428.5" y="329.5" width="10" height="10" fill="#00ff00"/>
<rect x="438.5" y="329.5" width="10" height="10" fill="#00ff00"/>
<rect x="448.5" y="329.5" width="10" height="10" fill="#00ff00"/>
<rect x="458.5" y="329.5" width="10" height="10" fill="#00ff00"/>
<rect x="468.5" y="329.5" width="9" height="10" fill="#00ff00"/>
<rect x="477.5" y="329.5" width="10" height="10" fill="#55ffff"/>
<rect x="487.5" y="329.5" width="10" height="10" fill="#00ff00"/>
<rect x="497.5" y="329.5" width="10" height="10" fill="#00ff00"/>
<rect x="507.5" y="329.5" width="10" height="10" fill="#fff" stroke="none"/>
<rect x="507.5" y="329.5" width="10" height="10" fill="url(#hx)"/>
<rect x="261.5" y="339.5" width="10" height="9" fill="#ff0000"/>
<rect x="271.5" y="338.5" width="10" height="10" fill="#ffff00"/>
<rect x="281.5" y="338.5" width="10" height="10" fill="#55ffff"/>
<rect x="291.5" y="338.5" width="10" height="10" fill="#ffffff"/>
<rect x="301.5" y="338.5" width="9" height="10" fill="#ffffff"/>
<rect x="310.5" y="338.5" width="10" height="10" fill="#ff0000"/>
<rect x="320.5" y="338.5" width="10" height="10" fill="#55ffff"/>
<rect x="330.5" y="338.5" width="10" height="10" fill="#00ff00"/>
<rect x="340.5" y="338.5" width="10" height="10" fill="#55ffff"/>
<rect x="350.5" y="338.5" width="10" height="10" fill="#00ff00"/>
<rect x="360.5" y="339.5" width="9" height="9" fill="#00ff00"/>
<rect x="369.5" y="339.5" width="10" height="9" fill="#00ff00"/>
<rect x="379.5" y="339.5" width="10" height="9" fill="#ffff00"/>
<rect x="389.5" y="339.5" width="10" height="9" fill="#00ff00"/>
<rect x="399.5" y="339.5" width="10" height="9" fill="#00ff00"/>
<rect x="409.5" y="339.5" width="9" height="9" fill="#00ff00"/>
<rect x="418.5" y="339.5" width="10" height="9" fill="#00ff00"/>
<rect x="428.5" y="339.5" width="10" height="9" fill="#00ff00"/>
<rect x="438.5" y="339.5" width="10" height="10" fill="#00ff00"/>
<rect x="448.5" y="339.5" width="10" height="10" fill="#55ffff"/>
<rect x="458.5" y="339.5" width="10" height="10" fill="#00ff00"/>
<rect x="468.5" y="339.5" width="9" height="10" fill="#00ff00"/>
<rect x="477.5" y="339.5" width="10" height="10" fill="#ffffff"/>
<rect x="487.5" y="339.5" width="10" height="10" fill="#00ff00"/>
<rect x="497.5" y="339.5" width="10" height="10" fill="#00ff00"/>
<rect x="261.5" y="348.5" width="10" height="10" fill="#ff0000"/>
<rect x="271.5" y="348.5" width="10" height="10" fill="#ff0000"/>
<rect x="281.5" y="348.5" width="10" height="10" fill="#ffff00"/>
<rect x="291.5" y="348.5" width="10" height="10" fill="#ffff00"/>
<rect x="301.5" y="348.5" width="10" height="10" fill="#55ffff"/>
<rect x="311.5" y="348.5" width="9" height="10" fill="#ffffff"/>
<rect x="320.5" y="348.5" width="10" height="10" fill="#00ff00"/>
<rect x="330.5" y="348.5" width="10" height="10" fill="#ff0000"/>
<rect x="340.5" y="348.5" width="10" height="10" fill="#00ff00"/>
<rect x="350.5" y="348.5" width="10" height="10" fill="#00ff00"/>
<rect x="360.5" y="348.5" width="9" height="10" fill="#ffffff"/>
<rect x="369.5" y="348.5" width="10" height="10" fill="#00ff00"/>
<rect x="379.5" y="348.5" width="10" height="10" fill="#ffff00"/>
<rect x="389.5" y="348.5" width="10" height="10" fill="#00ff00"/>
<rect x="399.5" y="348.5" width="10" height="10" fill="#00ff00"/>
<rect x="409.5" y="348.5" width="9" height="10" fill="#00ff00"/>
<rect x="418.5" y="348.5" width="10" height="10" fill="#00ff00"/>
<rect x="428.5" y="348.5" width="10" height="10" fill="#00ff00"/>
<rect x="438.5" y="349.5" width="10" height="9" fill="#ffffff"/>
<rect x="448.5" y="349.5" width="10" height="9" fill="#55ffff"/>
<rect x="458.5" y="349.5" width="10" height="9" fill="#00ff00"/>
<rect x="468.5" y="349.5" width="9" height="9" fill="#00ff00"/>
<rect x="477.5" y="349.5" width="10" height="9" fill="#00ff00"/>
<rect x="487.5" y="349.5" width="10" height="10" fill="#ffffff"/>
<rect x="271.5" y="358.5" width="10" height="10" fill="#ffff00"/>
<rect x="281.5" y="358.5" width="10" height="10" fill="#00ff00"/>
<rect x="291.5" y="358.5" width="10" height="10" fill="#55ffff"/>
<rect x="301.5" y="358.5" width="10" height="10" fill="#55ffff"/>
<rect x="311.5" y="358.5" width="9" height="10" fill="#00ff00"/>
<rect x="320.5" y="358.5" width="10" height="10" fill="#00ff00"/>
<rect x="330.5" y="358.5" width="10" height="10" fill="#ff0000"/>
<rect x="340.5" y="358.5" width="10" height="10" fill="#00ff00"/>
<rect x="350.5" y="358.5" width="10" height="10" fill="#00ff00"/>
<rect x="360.5" y="358.5" width="9" height="10" fill="#55ffff"/>
<rect x="369.5" y="358.5" width="10" height="10" fill="#ffffff"/>
<rect x="379.5" y="358.5" width="10" height="10" fill="#ffffff"/>
<rect x="389.5" y="358.5" width="10" height="10" fill="#00ff00"/>
<rect x="399.5" y="358.5" width="10" height="10" fill="#00ff00"/>
<rect x="409.5" y="358.5" width="9" height="10" fill="#00ff00"/>
<rect x="418.5" y="358.5" width="10" height="10" fill="#00ff00"/>
<rect x="428.5" y="358.5" width="10" height="10" fill="#00ff00"/>
<rect x="438.5" y="358.5" width="10" height="10" fill="#00ff00"/>
<rect x="448.5" y="358.5" width="10" height="10" fill="#00ff00"/>
<rect x="458.5" y="358.5" width="10" height="10" fill="#00ff00"/>
<rect x="468.5" y="358.5" width="9" height="10" fill="#00ff00"/>
<rect x="477.5" y="358.5" width="10" height="10" fill="#ffffff"/>
<rect x="271.5" y="368.5" width="10" height="10" fill="#55ffff"/>
<rect x="281.5" y="368.5" width="10" height="10" fill="#55ffff"/>
<rect x="291.5" y="368.5" width="10" height="10" fill="#55ffff"/>
<rect x="301.5" y="368.5" width="10" height="10" fill="#55ffff"/>
<rect x="311.5" y="368.5" width="9" height="10" fill="#00ff00"/>
<rect x="320.5" y="368.5" width="10" height="10" fill="#55ffff"/>
<rect x="330.5" y="368.5" width="10" height="10" fill="#55ffff"/>
<rect x="340.5" y="368.5" width="10" height="10" fill="#00ff00"/>
<rect x="350.5" y="368.5" width="10" height="10" fill="#ffffff"/>
<rect x="360.5" y="368.5" width="9" height="10" fill="#ffffff"/>
<rect x="369.5" y="368.5" width="10" height="10" fill="#ffffff"/>
<rect x="379.5" y="368.5" width="10" height="10" fill="#00ff00"/>
<rect x="389.5" y="368.5" width="10" height="10" fill="#55ffff"/>
<rect x="399.5" y="368.5" width="10" height="10" fill="#00ff00"/>
<rect x="409.5" y="368.5" width="9" height="10" fill="#00ff00"/>
<rect x="418.5" y="368.5" width="10" height="10" fill="#00ff00"/>
<rect x="428.5" y="368.5" width="10" height="10" fill="#00ff00"/>
<rect x="438.5" y="368.5" width="10" height="10" fill="#ffffff"/>
<rect x="448.5" y="368.5" width="9" height="10" fill="#00ff00"/>
<rect x="457.5" y="368.5" width="10" height="10" fill="#00ff00"/>
<rect x="467.5" y="368.5" width="10" height="10" fill="#ffffff"/>
<rect x="271.5" y="378.5" width="10" height="10" fill="#ff0000"/>
<rect x="281.5" y="378.5" width="10" height="10" fill="#55ffff"/>
<rect x="291.5" y="378.5" width="10" height="10" fill="#ffff00"/>
<rect x="301.5" y="378.5" width="10" height="10" fill="#55ffff"/>
<rect x="311.5" y="378.5" width="9" height="10" fill="#00ff00"/>
<rect x="320.5" y="378.5" width="10" height="10" fill="#00ff00"/>
<rect x="330.5" y="378.5" width="10" height="10" fill="#55ffff"/>
<rect x="340.5" y="378.5" width="10" height="10" fill="#55ffff"/>
<rect x="350.5" y="378.5" width="10" height="10" fill="#00ff00"/>
<rect x="360.5" y="378.5" width="9" height="10" fill="#00ff00"/>
<rect x="369.5" y="378.5" width="10" height="10" fill="#ffffff"/>
<rect x="379.5" y="378.5" width="10" height="10" fill="#00ff00"/>
<rect x="389.5" y="378.5" width="10" height="10" fill="#00ff00"/>
<rect x="399.5" y="378.5" width="10" height="10" fill="#00ff00"/>
<rect x="409.5" y="378.5" width="9" height="10" fill="#ff0000"/>
<rect x="418.5" y="378.5" width="10" height="10" fill="#00ff00"/>
<rect x="428.5" y="378.5" width="10" height="10" fill="#ffffff"/>
<rect x="438.5" y="378.5" width="10" height="10" fill="#55ffff"/>
<rect x="448.5" y="378.5" width="9" height="10" fill="#55ffff"/>
<rect x="457.5" y="378.5" width="10" height="10" fill="#ffffff"/>
<rect x="271.5" y="388.5" width="10" height="10" fill="#55ffff"/>
<rect x="281.5" y="388.5" width="10" height="10" fill="#00ff00"/>
<rect x="291.5" y="388.5" width="10" height="10" fill="#00ff00"/>
<rect x="301.5" y="388.5" width="10" height="10" fill="#55ffff"/>
<rect x="311.5" y="388.5" width="9" height="10" fill="#ffffff"/>
<rect x="320.5" y="388.5" width="10" height="10" fill="#00ff00"/>
<rect x="330.5" y="388.5" width="10" height="10" fill="#00ff00"/>
<rect x="340.5" y="388.5" width="10" height="10" fill="#00ff00"/>
<rect x="350.5" y="388.5" width="10" height="10" fill="#00ff00"/>
<rect x="360.5" y="388.5" width="9" height="10" fill="#ffffff"/>
<rect x="369.5" y="388.5" width="10" height="10" fill="#00ff00"/>
<rect x="379.5" y="388.5" width="10" height="10" fill="#55ffff"/>
<rect x="389.5" y="388.5" width="10" height="10" fill="#55ffff"/>
<rect x="399.5" y="388.5" width="10" height="10" fill="#00ff00"/>
<rect x="409.5" y="388.5" width="9" height="10" fill="#ffffff"/>
<rect x="418.5" y="388.5" width="10" height="10" fill="#00ff00"/>
<rect x="428.5" y="388.5" width="10" height="10" fill="#00ff00"/>
<rect x="438.5" y="388.5" width="10" height="10" fill="#00ff00"/>
<rect x="448.5" y="388.5" width="9" height="10" fill="#00ff00"/>
<rect x="457.5" y="388.5" width="10" height="10" fill="#00ff00"/>
<rect x="262.5" y="398.5" width="9" height="10" fill="#ffffff"/>
<rect x="271.5" y="398.5" width="10" height="10" fill="#55ffff"/>
<rect x="281.5" y="398.5" width="10" height="10" fill="#55ffff"/>
<rect x="291.5" y="398.5" width="10" height="10" fill="#00ff00"/>
<rect x="301.5" y="398.5" width="10" height="10" fill="#55ffff"/>
<rect x="311.5" y="398.5" width="9" height="10" fill="#ffffff"/>
<rect x="320.5" y="398.5" width="10" height="10" fill="#00ff00"/>
<rect x="330.5" y="398.5" width="10" height="10" fill="#00ff00"/>
<rect x="340.5" y="398.5" width="10" height="10" fill="#ffff00"/>
<rect x="350.5" y="398.5" width="10" height="10" fill="#00ff00"/>
<rect x="360.5" y="398.5" width="9" height="10" fill="#ff0000"/>
<rect x="369.5" y="398.5" width="10" height="10" fill="#00ff00"/>
<rect x="379.5" y="398.5" width="10" height="10" fill="#00ff00"/>
<rect x="389.5" y="398.5" width="10" height="10" fill="#00ff00"/>
<rect x="399.5" y="398.5" width="10" height="10" fill="#55ffff"/>
<rect x="409.5" y="398.5" width="9" height="10" fill="#00ff00"/>
<rect x="418.5" y="398.5" width="10" height="10" fill="#ffffff"/>
<rect x="428.5" y="398.5" width="10" height="10" fill="#00ff00"/>
<rect x="438.5" y="398.5" width="10" height="10" fill="#ffff00"/>
<rect x="448.5" y="398.5" width="9" height="10" fill="#ffffff"/>
<rect x="252.5" y="408.5" width="10" height="10" fill="#ffffff"/>
<rect x="262.5" y="408.5" width="9" height="10" fill="#ffff00"/>
<rect x="271.5" y="408.5" width="10" height="9" fill="#00ff00"/>
<rect x="281.5" y="408.5" width="10" height="9" fill="#55ffff"/>
<rect x="291.5" y="408.5" width="10" height="9" fill="#00ff00"/>
<rect x="301.5" y="408.5" width="10" height="9" fill="#00ff00"/>
<rect x="311.5" y="408.5" width="9" height="9" fill="#ffffff"/>
<rect x="320.5" y="408.5" width="10" height="9" fill="#ffffff"/>
<rect x="330.5" y="408.5" width="10" height="9" fill="#00ff00"/>
<rect x="340.5" y="408.5" width="10" height="9" fill="#ffffff"/>
<rect x="350.5" y="408.5" width="10" height="9" fill="#00ff00"/>
<rect x="360.5" y="408.5" width="9" height="9" fill="#55ffff"/>
<rect x="369.5" y="408.5" width="10" height="10" fill="#00ff00"/>
<rect x="379.5" y="408.5" width="10" height="10" fill="#00ff00"/>
<rect x="389.5" y="408.5" width="10" height="10" fill="#00ff00"/>
<rect x="399.5" y="408.5" width="10" height="10" fill="#00ff00"/>
<rect x="409.5" y="408.5" width="9" height="10" fill="#00ff00"/>
<rect x="418.5" y="408.5" width="10" height="10" fill="#00ff00"/>
<rect x="428.5" y="408.5" width="10" height="10" fill="#00ff00"/>
<rect x="438.5" y="408.5" width="10" height="10" fill="#00ff00"/>
<rect x="448.5" y="408.5" width="9" height="10" fill="#ffffff"/>
<rect x="252.5" y="418.5" width="10" height="9" fill="#00ff00"/>
<rect x="262.5" y="418.5" width="9" height="9" fill="#00ff00"/>
<rect x="271.5" y="417.5" width="10" height="10" fill="#55ffff"/>
<rect x="281.5" y="417.5" width="10" height="10" fill="#55ffff"/>
<rect x="291.5" y="417.5" width="10" height="10" fill="#00ff00"/>
<rect x="301.5" y="417.5" width="10" height="10" fill="#ffff00"/>
<rect x="311.5" y="417.5" width="9" height="10" fill="#00ff00"/>
<rect x="320.5" y="417.5" width="10" height="10" fill="#00ff00"/>
<rect x="330.5" y="417.5" width="10" height="10" fill="#fff" stroke="none"/>
<rect x="330.5" y="417.5" width="10" height="10" fill="url(#hx)"/>
<rect x="340.5" y="417.5" width="10" height="10" fill="#ffff00"/>
<rect x="350.5" y="417.5" width="10" height="10" fill="#00ff00"/>
<rect x="360.5" y="417.5" width="9" height="10" fill="#ffffff"/>
<rect x="369.5" y="418.5" width="10" height="9" fill="#ffffff"/>
<rect x="379.5" y="418.5" width="10" height="9" fill="#ff0000"/>
<rect x="389.5" y="418.5" width="10" height="9" fill="#00ff00"/>
<rect x="399.5" y="418.5" width="10" height="9" fill="#00ff00"/>
<rect x="409.5" y="418.5" width="9" height="9" fill="#55ffff"/>
<rect x="418.5" y="418.5" width="10" height="9" fill="#00ff00"/>
<rect x="428.5" y="418.5" width="10" height="9" fill="#55ffff"/>
<rect x="438.5" y="418.5" width="10" height="10" fill="#ff0000"/>
<rect x="262.5" y="427.5" width="9" height="10" fill="#ff0000"/>
<rect x="271.5" y="427.5" width="10" height="10" fill="#ff0000"/>
<rect x="281.5" y="427.5" width="10" height="10" fill="#55ffff"/>
<rect x="291.5" y="427.5" width="10" height="10" fill="#55ffff"/>
<rect x="301.5" y="427.5" width="10" height="10" fill="#ffff00"/>
<rect x="311.5" y="427.5" width="9" height="10" fill="#00ff00"/>
<rect x="320.5" y="427.5" width="10" height="10" fill="#00ff00"/>
<rect x="330.5" y="427.5" width="10" height="10" fill="#00ff00"/>
<rect x="340.5" y="427.5" width="10" height="10" fill="#ffffff"/>
<rect x="350.5" y="427.5" width="10" height="10" fill="#ffffff"/>
<rect x="360.5" y="427.5" width="9" height="10" fill="#ffffff"/>
<rect x="369.5" y="427.5" width="10" height="10" fill="#ffffff"/>
<rect x="379.5" y="427.5" width="10" height="10" fill="#ffffff"/>
<rect x="389.5" y="427.5" width="10" height="10" fill="#ffffff"/>
<rect x="399.5" y="427.5" width="10" height="10" fill="#ffffff"/>
<rect x="409.5" y="427.5" width="9" height="10" fill="#00ff00"/>
<rect x="418.5" y="427.5" width="10" height="10" fill="#55ffff"/>
<rect x="428.5" y="427.5" width="10" height="10" fill="#00ff00"/>
<rect x="438.5" y="428.5" width="10" height="9" fill="#fff" stroke="none"/>
<rect x="438.5" y="428.5" width="10" height="9" fill="url(#hx)"/>
<rect x="262.5" y="437.5" width="9" height="10" fill="#ffffff"/>
<rect x="271.5" y="437.5" width="10" height="10" fill="#00ff00"/>
<rect x="281.5" y="437.5" width="10" height="10" fill="#55ffff"/>
<rect x="291.5" y="437.5" width="10" height="10" fill="#ffffff"/>
<rect x="301.5" y="437.5" width="10" height="10" fill="#55ffff"/>
<rect x="311.5" y="437.5" width="9" height="10" fill="#55ffff"/>
<rect x="320.5" y="437.5" width="10" height="10" fill="#00ff00"/>
<rect x="330.5" y="437.5" width="10" height="10" fill="#00ff00"/>
<rect x="340.5" y="437.5" width="10" height="10" fill="#ffff00"/>
<rect x="350.5" y="437.5" width="10" height="10" fill="#ffffff"/>
<rect x="360.5" y="437.5" width="9" height="10" fill="#ffffff"/>
<rect x="369.5" y="437.5" width="10" height="10" fill="#ffffff"/>
<rect x="379.5" y="437.5" width="10" height="10" fill="#ffffff"/>
<rect x="389.5" y="437.5" width="10" height="10" fill="#ffffff"/>
<rect x="291.5" y="447.5" width="10" height="10" fill="#fff" stroke="none"/>
<rect x="291.5" y="447.5" width="10" height="10" fill="url(#hx)"/>
<rect x="301.5" y="447.5" width="10" height="10" fill="#ffffff"/>
<rect x="311.5" y="447.5" width="9" height="10" fill="#00ff00"/>
<rect x="320.5" y="447.5" width="10" height="10" fill="#00ff00"/>
<rect x="330.5" y="447.5" width="10" height="10" fill="#00ff00"/>
<rect x="340.5" y="447.5" width="10" height="10" fill="#ff0000"/>
<rect x="350.5" y="447.5" width="10" height="10" fill="#ffffff"/>
<rect x="311.5" y="457.5" width="9" height="10" fill="#ffffff"/>
<rect x="320.5" y="457.5" width="10" height="10" fill="#00ff00"/>
<rect x="330.5" y="457.5" width="10" height="10" fill="#55ffff"/>
<rect x="340.5" y="457.5" width="10" height="10" fill="#ffffff"/>
<rect x="330.5" y="467.5" width="10" height="10" fill="#ffffff"/>
<rect x="428.5" y="437.5" width="10" height="10" fill="#fff" stroke="none"/>
<rect x="428.5" y="437.5" width="10" height="10" fill="url(#hx)"/>
</g>
<g fill="none" stroke="#000" stroke-width="3.5" stroke-linejoin="round" stroke-linecap="butt" shape-rendering="geometricPrecision">
<path d="M777.3,153.1 L765.4,153.3 L750.2,154.4 L732.0,155.6 L708.3,157.7 L704.5,160.0 L668.0,160.4 L560.0,160.4 L521.3,159.8 L511.1,155.1 L502.8,150.0 L489.5,150.0 L488.5,144.4 L465.9,143.8 L443.4,142.8 L439.3,136.6 L435.2,132.5 L429.0,127.4 L414.6,127.4 L404.0,127.3 L400.5,124.7 L391.8,115.2 L377.7,115.2 L376.6,107.9 L373.6,103.8 L363.3,98.7 L353.0,93.5 L340.7,87.4 L330.5,80.2 L326.4,78.2 L320.2,79.6 L312.0,80.2 L301.8,82.3 L291.5,80.2 L283.3,80.2 L275.1,78.2 L273.0,76.1 L266.8,69.9 L260.7,60.7 L254.5,53.5 L245.3,47.4 L243.3,41.8 L227.9,43.3 L215.6,46.4 L205.3,52.5 L195.1,58.7 L182.7,64.8 L181.7,76.7 L163.3,76.7 L154.0,83.3 L143.8,91.5 L132.2,102.7 L128.3,114.1 L124.3,130.5 L121.5,141.4 L118.3,149.5 L117.8,154.0 L118.1,165.0 L118.2,176.0 L176.0,176.2 L209.2,176.2 L226.7,190.0 L231.3,195.0 L231.7,208.3 L210.0,208.3 L210.8,215.0 L213.3,226.7 L214.2,230.5 L185.8,222.5 L169.2,240.0 L180.0,237.7 L190.0,239.7 L198.3,241.7 L205.0,246.7 L213.3,253.3 L221.7,262.5 L231.7,275.0 L240.0,285.8 L247.2,298.6 L276.5,299.3 L277.3,302.5 L281.7,303.6 L291.2,303.6 L291.5,314.3 L252.4,314.3 L256.7,320.0 L263.3,330.5 L266.7,340.0 L268.3,348.3 L272.5,358.3 L274.2,368.3 L278.9,376.2 L278.9,386.5 L279.6,396.0 L278.3,401.0 L269.3,405.0 L263.6,410.0 L259.7,416.5 L259.0,419.7 L261.6,425.5 L266.0,433.0 L267.4,437.0 L268.0,442.8 L270.6,444.7 L274.5,445.4 L278.3,443.4 L283.4,443.2 L291.0,444.5 L297.5,446.6 L302.7,451.0 L307.8,455.0 L315.5,458.8 L323.2,462.7 L327.7,465.2 L333.5,468.4 L334.7,457.5 L339.2,452.4 L341.8,447.3 L340.5,438.3 L339.5,436.0 L334.5,432.0 L333.5,425.0 L332.3,409.0 L340.5,408.8 L341.5,414.0 L341.8,422.0 L350.8,422.3 L362.3,421.0 L364.9,419.0 L371.3,414.6 L376.4,414.6 L380.3,417.8 L381.5,421.6 L382.0,425.3 L389.3,425.5 L399.1,425.8 L406.0,427.0 L413.3,428.9 L422.2,433.3 L431.0,439.5 L439.0,444.3 L445.3,443.1 L450.6,446.6 L452.4,452.8 L455.9,457.3 L463.0,462.6 L471.0,468.8 L477.2,479.5 L484.3,488.4 L492.3,494.0" stroke-linejoin="miter" stroke-miterlimit="2"/>
<path d="M742.4,494.0 L696.1,437.1 L639.4,437.1 L634.0,406.3 L650.3,355.3 L658.0,357.2 L664.8,355.9 L670.2,352.6 L675.7,355.9 L682.5,356.4 L687.9,353.2 L693.4,349.1 L702.1,347.7 L737.0,387.2 L747.9,393.2 L777.3,424.0"/>
<path d="M776.5,360.0 L776.5,388.6"/>
</g>
<g fill="none" stroke="#000" stroke-width="2"><path d="M684.9,131.0 L683.4,145.0"/><path d="M682.0,153.0 L678.5,160.5"/><path d="M675.5,170.0 L672.6,181.0"/><path d="M670.0,191.4 L665.9,200.6"/><path d="M663.8,210.4 L659.2,221.1"/><path d="M656.2,228.3 L652.6,240.1"/><path d="M651.9,248.3 L651.9,253.0 L644.7,253.0"/><path d="M636.5,251.4 L629.8,251.4 L629.8,255.5"/><path d="M629.8,263.5 L619.1,263.5"/><path d="M615.0,271.9 L610.9,282.2"/><path d="M614.5,288.3 L614.5,300.0"/><path d="M511.4,303.2 L521.8,303.2 L521.8,301.5"/><path d="M530.5,303.2 L541.9,303.2"/><path d="M550.8,303.2 L562.2,303.2"/><path d="M571.0,303.2 L582.5,303.2"/><path d="M591.4,303.2 L602.8,303.2"/><path d="M611.7,303.2 L624.4,303.2"/><path d="M511.9,311.9 L511.9,324.6"/><path d="M512.0,332.5 L506.7,332.5 L505.8,338.3"/><path d="M492.5,347.5 L497.8,347.5 L497.8,342.5"/><path d="M488.2,353.2 L483.1,353.2 L483.1,357.7"/><path d="M468.7,367.0 L476.9,361.8"/><path d="M465.0,376.5 L463.8,387.7"/><path d="M456.9,392.3 L450.8,401.2"/><path d="M448.1,410.0 L443.1,417.7"/><path d="M439.0,436.2 L447.2,431.1"/><g stroke-width="2.8"><path d="M623.5,303.5 L632.0,311.9"/><path d="M638.3,317.0 L647.2,324.6"/><path d="M652.3,328.4 L661.2,334.8"/><path d="M668.8,341.1 L677.7,347.5"/></g></g>
<g fill="#000" stroke="none"><rect x="204" y="25" width="3" height="1"/><rect x="206" y="26" width="1" height="1"/><rect x="204" y="27" width="3" height="1"/><rect x="204" y="28" width="1" height="1"/><rect x="204" y="29" width="3" height="1"/><rect x="208" y="25" width="3" height="1"/><rect x="208" y="26" width="1" height="1"/><rect x="208" y="27" width="3" height="1"/><rect x="210" y="28" width="1" height="1"/><rect x="208" y="29" width="3" height="1"/><rect x="224" y="25" width="3" height="1"/><rect x="226" y="26" width="1" height="1"/><rect x="224" y="27" width="3" height="1"/><rect x="224" y="28" width="1" height="1"/><rect x="224" y="29" width="3" height="1"/><rect x="228" y="25" width="3" height="1"/><rect x="228" y="26" width="1" height="1"/><rect x="230" y="26" width="1" height="1"/><rect x="228" y="27" width="3" height="1"/><rect x="228" y="28" width="1" height="1"/><rect x="230" y="28" width="1" height="1"/><rect x="228" y="29" width="3" height="1"/><rect x="244" y="25" width="3" height="1"/><rect x="246" y="26" width="1" height="1"/><rect x="244" y="27" width="3" height="1"/><rect x="246" y="28" width="1" height="1"/><rect x="244" y="29" width="3" height="1"/><rect x="248" y="25" width="3" height="1"/><rect x="248" y="26" width="1" height="1"/><rect x="250" y="26" width="1" height="1"/><rect x="248" y="27" width="1" height="1"/><rect x="250" y="27" width="1" height="1"/><rect x="248" y="28" width="1" height="1"/><rect x="250" y="28" width="1" height="1"/><rect x="248" y="29" width="3" height="1"/><rect x="184" y="35" width="3" height="1"/><rect x="186" y="36" width="1" height="1"/><rect x="184" y="37" width="3" height="1"/><rect x="184" y="38" width="1" height="1"/><rect x="184" y="39" width="3" height="1"/><rect x="188" y="35" width="1" height="1"/><rect x="190" y="35" width="1" height="1"/><rect x="188" y="36" width="1" height="1"/><rect x="190" y="36" width="1" height="1"/><rect x="188" y="37" width="3" height="1"/><rect x="190" y="38" width="1" height="1"/><rect x="190" y="39" width="1" height="1"/><rect x="145" y="55" width="3" height="1"/><rect x="147" y="56" width="1" height="1"/><rect x="145" y="57" width="3" height="1"/><rect x="145" y="58" width="1" height="1"/><rect x="145" y="59" width="3" height="1"/><rect x="149" y="55" width="3" height="1"/><rect x="149" y="56" width="1" height="1"/><rect x="151" y="56" width="1" height="1"/><rect x="149" y="57" width="1" height="1"/><rect x="151" y="57" width="1" height="1"/><rect x="149" y="58" width="1" height="1"/><rect x="151" y="58" width="1" height="1"/><rect x="149" y="59" width="3" height="1"/><rect x="273" y="45" width="3" height="1"/><rect x="275" y="46" width="1" height="1"/><rect x="273" y="47" width="3" height="1"/><rect x="275" y="48" width="1" height="1"/><rect x="273" y="49" width="3" height="1"/><rect x="277" y="45" width="3" height="1"/><rect x="279" y="46" width="1" height="1"/><rect x="277" y="47" width="3" height="1"/><rect x="279" y="48" width="1" height="1"/><rect x="277" y="49" width="3" height="1"/><rect x="292" y="55" width="3" height="1"/><rect x="294" y="56" width="1" height="1"/><rect x="292" y="57" width="3" height="1"/><rect x="294" y="58" width="1" height="1"/><rect x="292" y="59" width="3" height="1"/><rect x="296" y="55" width="3" height="1"/><rect x="296" y="56" width="1" height="1"/><rect x="296" y="57" width="3" height="1"/><rect x="298" y="58" width="1" height="1"/><rect x="296" y="59" width="3" height="1"/><rect x="312" y="55" width="3" height="1"/><rect x="314" y="56" width="1" height="1"/><rect x="312" y="57" width="3" height="1"/><rect x="314" y="58" width="1" height="1"/><rect x="312" y="59" width="3" height="1"/><rect x="316" y="55" width="3" height="1"/><rect x="318" y="56" width="1" height="1"/><rect x="318" y="57" width="1" height="1"/><rect x="317" y="58" width="1" height="1"/><rect x="317" y="59" width="1" height="1"/><rect x="332" y="55" width="3" height="1"/><rect x="334" y="56" width="1" height="1"/><rect x="332" y="57" width="3" height="1"/><rect x="334" y="58" width="1" height="1"/><rect x="332" y="59" width="3" height="1"/><rect x="336" y="55" width="3" height="1"/><rect x="336" y="56" width="1" height="1"/><rect x="338" y="56" width="1" height="1"/><rect x="336" y="57" width="3" height="1"/><rect x="338" y="58" width="1" height="1"/><rect x="336" y="59" width="3" height="1"/><rect x="352" y="65" width="1" height="1"/><rect x="354" y="65" width="1" height="1"/><rect x="352" y="66" width="1" height="1"/><rect x="354" y="66" width="1" height="1"/><rect x="352" y="67" width="3" height="1"/><rect x="354" y="68" width="1" height="1"/><rect x="354" y="69" width="1" height="1"/><rect x="357" y="65" width="1" height="1"/><rect x="356" y="66" width="2" height="1"/><rect x="357" y="67" width="1" height="1"/><rect x="357" y="68" width="1" height="1"/><rect x="356" y="69" width="3" height="1"/><rect x="401" y="95" width="1" height="1"/><rect x="403" y="95" width="1" height="1"/><rect x="401" y="96" width="1" height="1"/><rect x="403" y="96" width="1" height="1"/><rect x="401" y="97" width="3" height="1"/><rect x="403" y="98" width="1" height="1"/><rect x="403" y="99" width="1" height="1"/><rect x="405" y="95" width="3" height="1"/><rect x="405" y="96" width="1" height="1"/><rect x="405" y="97" width="3" height="1"/><rect x="407" y="98" width="1" height="1"/><rect x="405" y="99" width="3" height="1"/><rect x="420" y="104" width="1" height="1"/><rect x="422" y="104" width="1" height="1"/><rect x="420" y="105" width="1" height="1"/><rect x="422" y="105" width="1" height="1"/><rect x="420" y="106" width="3" height="1"/><rect x="422" y="107" width="1" height="1"/><rect x="422" y="108" width="1" height="1"/><rect x="424" y="104" width="3" height="1"/><rect x="424" y="105" width="1" height="1"/><rect x="426" y="105" width="1" height="1"/><rect x="424" y="106" width="3" height="1"/><rect x="424" y="107" width="1" height="1"/><rect x="426" y="107" width="1" height="1"/><rect x="424" y="108" width="3" height="1"/><rect x="460" y="124" width="3" height="1"/><rect x="460" y="125" width="1" height="1"/><rect x="460" y="126" width="3" height="1"/><rect x="462" y="127" width="1" height="1"/><rect x="460" y="128" width="3" height="1"/><rect x="464" y="124" width="3" height="1"/><rect x="466" y="125" width="1" height="1"/><rect x="464" y="126" width="3" height="1"/><rect x="464" y="127" width="1" height="1"/><rect x="464" y="128" width="3" height="1"/><rect x="479" y="124" width="3" height="1"/><rect x="479" y="125" width="1" height="1"/><rect x="479" y="126" width="3" height="1"/><rect x="481" y="127" width="1" height="1"/><rect x="479" y="128" width="3" height="1"/><rect x="483" y="124" width="1" height="1"/><rect x="485" y="124" width="1" height="1"/><rect x="483" y="125" width="1" height="1"/><rect x="485" y="125" width="1" height="1"/><rect x="483" y="126" width="3" height="1"/><rect x="485" y="127" width="1" height="1"/><rect x="485" y="128" width="1" height="1"/><rect x="499" y="124" width="3" height="1"/><rect x="499" y="125" width="1" height="1"/><rect x="499" y="126" width="3" height="1"/><rect x="501" y="127" width="1" height="1"/><rect x="499" y="128" width="3" height="1"/><rect x="503" y="124" width="3" height="1"/><rect x="503" y="125" width="1" height="1"/><rect x="503" y="126" width="3" height="1"/><rect x="503" y="127" width="1" height="1"/><rect x="505" y="127" width="1" height="1"/><rect x="503" y="128" width="3" height="1"/><rect x="519" y="134" width="3" height="1"/><rect x="519" y="135" width="1" height="1"/><rect x="519" y="136" width="3" height="1"/><rect x="521" y="137" width="1" height="1"/><rect x="519" y="138" width="3" height="1"/><rect x="523" y="134" width="3" height="1"/><rect x="523" y="135" width="1" height="1"/><rect x="525" y="135" width="1" height="1"/><rect x="523" y="136" width="3" height="1"/><rect x="523" y="137" width="1" height="1"/><rect x="525" y="137" width="1" height="1"/><rect x="523" y="138" width="3" height="1"/><rect x="538" y="134" width="3" height="1"/><rect x="538" y="135" width="1" height="1"/><rect x="538" y="136" width="3" height="1"/><rect x="538" y="137" width="1" height="1"/><rect x="540" y="137" width="1" height="1"/><rect x="538" y="138" width="3" height="1"/><rect x="542" y="134" width="3" height="1"/><rect x="542" y="135" width="1" height="1"/><rect x="544" y="135" width="1" height="1"/><rect x="542" y="136" width="1" height="1"/><rect x="544" y="136" width="1" height="1"/><rect x="542" y="137" width="1" height="1"/><rect x="544" y="137" width="1" height="1"/><rect x="542" y="138" width="3" height="1"/><rect x="558" y="135" width="3" height="1"/><rect x="558" y="136" width="1" height="1"/><rect x="558" y="137" width="3" height="1"/><rect x="558" y="138" width="1" height="1"/><rect x="560" y="138" width="1" height="1"/><rect x="558" y="139" width="3" height="1"/><rect x="562" y="135" width="3" height="1"/><rect x="564" y="136" width="1" height="1"/><rect x="562" y="137" width="3" height="1"/><rect x="562" y="138" width="1" height="1"/><rect x="562" y="139" width="3" height="1"/><rect x="578" y="135" width="3" height="1"/><rect x="578" y="136" width="1" height="1"/><rect x="578" y="137" width="3" height="1"/><rect x="578" y="138" width="1" height="1"/><rect x="580" y="138" width="1" height="1"/><rect x="578" y="139" width="3" height="1"/><rect x="582" y="135" width="1" height="1"/><rect x="584" y="135" width="1" height="1"/><rect x="582" y="136" width="1" height="1"/><rect x="584" y="136" width="1" height="1"/><rect x="582" y="137" width="3" height="1"/><rect x="584" y="138" width="1" height="1"/><rect x="584" y="139" width="1" height="1"/><rect x="597" y="135" width="3" height="1"/><rect x="597" y="136" width="1" height="1"/><rect x="597" y="137" width="3" height="1"/><rect x="597" y="138" width="1" height="1"/><rect x="599" y="138" width="1" height="1"/><rect x="597" y="139" width="3" height="1"/><rect x="601" y="135" width="3" height="1"/><rect x="601" y="136" width="1" height="1"/><rect x="601" y="137" width="3" height="1"/><rect x="601" y="138" width="1" height="1"/><rect x="603" y="138" width="1" height="1"/><rect x="601" y="139" width="3" height="1"/><rect x="617" y="135" width="3" height="1"/><rect x="617" y="136" width="1" height="1"/><rect x="617" y="137" width="3" height="1"/><rect x="617" y="138" width="1" height="1"/><rect x="619" y="138" width="1" height="1"/><rect x="617" y="139" width="3" height="1"/><rect x="621" y="135" width="3" height="1"/><rect x="621" y="136" width="1" height="1"/><rect x="623" y="136" width="1" height="1"/><rect x="621" y="137" width="3" height="1"/><rect x="621" y="138" width="1" height="1"/><rect x="623" y="138" width="1" height="1"/><rect x="621" y="139" width="3" height="1"/><rect x="637" y="135" width="3" height="1"/><rect x="639" y="136" width="1" height="1"/><rect x="639" y="137" width="1" height="1"/><rect x="638" y="138" width="1" height="1"/><rect x="638" y="139" width="1" height="1"/><rect x="641" y="135" width="3" height="1"/><rect x="641" y="136" width="1" height="1"/><rect x="643" y="136" width="1" height="1"/><rect x="641" y="137" width="1" height="1"/><rect x="643" y="137" width="1" height="1"/><rect x="641" y="138" width="1" height="1"/><rect x="643" y="138" width="1" height="1"/><rect x="641" y="139" width="3" height="1"/><rect x="656" y="135" width="3" height="1"/><rect x="658" y="136" width="1" height="1"/><rect x="658" y="137" width="1" height="1"/><rect x="657" y="138" width="1" height="1"/><rect x="657" y="139" width="1" height="1"/><rect x="660" y="135" width="3" height="1"/><rect x="662" y="136" width="1" height="1"/><rect x="660" y="137" width="3" height="1"/><rect x="660" y="138" width="1" height="1"/><rect x="660" y="139" width="3" height="1"/><rect x="676" y="135" width="3" height="1"/><rect x="678" y="136" width="1" height="1"/><rect x="678" y="137" width="1" height="1"/><rect x="677" y="138" width="1" height="1"/><rect x="677" y="139" width="1" height="1"/><rect x="680" y="135" width="1" height="1"/><rect x="682" y="135" width="1" height="1"/><rect x="680" y="136" width="1" height="1"/><rect x="682" y="136" width="1" height="1"/><rect x="680" y="137" width="3" height="1"/><rect x="682" y="138" width="1" height="1"/><rect x="682" y="139" width="1" height="1"/><rect x="124" y="75" width="1" height="1"/><rect x="126" y="75" width="1" height="1"/><rect x="124" y="76" width="1" height="1"/><rect x="126" y="76" width="1" height="1"/><rect x="124" y="77" width="3" height="1"/><rect x="126" y="78" width="1" height="1"/><rect x="126" y="79" width="1" height="1"/><rect x="128" y="75" width="3" height="1"/><rect x="128" y="76" width="1" height="1"/><rect x="130" y="76" width="1" height="1"/><rect x="128" y="77" width="1" height="1"/><rect x="130" y="77" width="1" height="1"/><rect x="128" y="78" width="1" height="1"/><rect x="130" y="78" width="1" height="1"/><rect x="128" y="79" width="3" height="1"/><rect x="104" y="105" width="3" height="1"/><rect x="106" y="106" width="1" height="1"/><rect x="104" y="107" width="3" height="1"/><rect x="106" y="108" width="1" height="1"/><rect x="104" y="109" width="3" height="1"/><rect x="108" y="105" width="3" height="1"/><rect x="110" y="106" width="1" height="1"/><rect x="110" y="107" width="1" height="1"/><rect x="109" y="108" width="1" height="1"/><rect x="109" y="109" width="1" height="1"/><rect x="104" y="125" width="3" height="1"/><rect x="106" y="126" width="1" height="1"/><rect x="104" y="127" width="3" height="1"/><rect x="106" y="128" width="1" height="1"/><rect x="104" y="129" width="3" height="1"/><rect x="108" y="125" width="3" height="1"/><rect x="108" y="126" width="1" height="1"/><rect x="108" y="127" width="3" height="1"/><rect x="110" y="128" width="1" height="1"/><rect x="108" y="129" width="3" height="1"/><rect x="95" y="144" width="3" height="1"/><rect x="97" y="145" width="1" height="1"/><rect x="95" y="146" width="3" height="1"/><rect x="97" y="147" width="1" height="1"/><rect x="95" y="148" width="3" height="1"/><rect x="99" y="144" width="3" height="1"/><rect x="101" y="145" width="1" height="1"/><rect x="99" y="146" width="3" height="1"/><rect x="101" y="147" width="1" height="1"/><rect x="99" y="148" width="3" height="1"/><rect x="95" y="164" width="3" height="1"/><rect x="97" y="165" width="1" height="1"/><rect x="95" y="166" width="3" height="1"/><rect x="97" y="167" width="1" height="1"/><rect x="95" y="168" width="3" height="1"/><rect x="100" y="164" width="1" height="1"/><rect x="99" y="165" width="2" height="1"/><rect x="100" y="166" width="1" height="1"/><rect x="100" y="167" width="1" height="1"/><rect x="99" y="168" width="3" height="1"/><rect x="95" y="184" width="3" height="1"/><rect x="97" y="185" width="1" height="1"/><rect x="95" y="186" width="3" height="1"/><rect x="95" y="187" width="1" height="1"/><rect x="95" y="188" width="3" height="1"/><rect x="99" y="184" width="3" height="1"/><rect x="99" y="185" width="1" height="1"/><rect x="101" y="185" width="1" height="1"/><rect x="99" y="186" width="3" height="1"/><rect x="101" y="187" width="1" height="1"/><rect x="99" y="188" width="3" height="1"/><rect x="116" y="194" width="1" height="1"/><rect x="115" y="195" width="2" height="1"/><rect x="116" y="196" width="1" height="1"/><rect x="116" y="197" width="1" height="1"/><rect x="115" y="198" width="3" height="1"/><rect x="119" y="194" width="3" height="1"/><rect x="121" y="195" width="1" height="1"/><rect x="121" y="196" width="1" height="1"/><rect x="120" y="197" width="1" height="1"/><rect x="120" y="198" width="1" height="1"/><rect x="136" y="194" width="1" height="1"/><rect x="135" y="195" width="2" height="1"/><rect x="136" y="196" width="1" height="1"/><rect x="136" y="197" width="1" height="1"/><rect x="135" y="198" width="3" height="1"/><rect x="139" y="194" width="3" height="1"/><rect x="139" y="195" width="1" height="1"/><rect x="141" y="195" width="1" height="1"/><rect x="139" y="196" width="3" height="1"/><rect x="141" y="197" width="1" height="1"/><rect x="139" y="198" width="3" height="1"/><rect x="155" y="194" width="3" height="1"/><rect x="157" y="195" width="1" height="1"/><rect x="155" y="196" width="3" height="1"/><rect x="155" y="197" width="1" height="1"/><rect x="155" y="198" width="3" height="1"/><rect x="160" y="194" width="1" height="1"/><rect x="159" y="195" width="2" height="1"/><rect x="160" y="196" width="1" height="1"/><rect x="160" y="197" width="1" height="1"/><rect x="159" y="198" width="3" height="1"/><rect x="174" y="194" width="3" height="1"/><rect x="176" y="195" width="1" height="1"/><rect x="174" y="196" width="3" height="1"/><rect x="174" y="197" width="1" height="1"/><rect x="174" y="198" width="3" height="1"/><rect x="178" y="194" width="3" height="1"/><rect x="180" y="195" width="1" height="1"/><rect x="178" y="196" width="3" height="1"/><rect x="180" y="197" width="1" height="1"/><rect x="178" y="198" width="3" height="1"/><rect x="165" y="253" width="3" height="1"/><rect x="167" y="254" width="1" height="1"/><rect x="165" y="255" width="3" height="1"/><rect x="165" y="256" width="1" height="1"/><rect x="165" y="257" width="3" height="1"/><rect x="169" y="253" width="3" height="1"/><rect x="171" y="254" width="1" height="1"/><rect x="169" y="255" width="3" height="1"/><rect x="169" y="256" width="1" height="1"/><rect x="169" y="257" width="3" height="1"/><rect x="184" y="253" width="3" height="1"/><rect x="186" y="254" width="1" height="1"/><rect x="184" y="255" width="3" height="1"/><rect x="184" y="256" width="1" height="1"/><rect x="184" y="257" width="3" height="1"/><rect x="188" y="253" width="1" height="1"/><rect x="190" y="253" width="1" height="1"/><rect x="188" y="254" width="1" height="1"/><rect x="190" y="254" width="1" height="1"/><rect x="188" y="255" width="3" height="1"/><rect x="190" y="256" width="1" height="1"/><rect x="190" y="257" width="1" height="1"/><rect x="144" y="233" width="3" height="1"/><rect x="146" y="234" width="1" height="1"/><rect x="144" y="235" width="3" height="1"/><rect x="144" y="236" width="1" height="1"/><rect x="144" y="237" width="3" height="1"/><rect x="148" y="233" width="1" height="1"/><rect x="150" y="233" width="1" height="1"/><rect x="148" y="234" width="1" height="1"/><rect x="150" y="234" width="1" height="1"/><rect x="148" y="235" width="3" height="1"/><rect x="150" y="236" width="1" height="1"/><rect x="150" y="237" width="1" height="1"/><rect x="224" y="292" width="1" height="1"/><rect x="223" y="293" width="2" height="1"/><rect x="224" y="294" width="1" height="1"/><rect x="224" y="295" width="1" height="1"/><rect x="223" y="296" width="3" height="1"/><rect x="227" y="292" width="3" height="1"/><rect x="227" y="293" width="1" height="1"/><rect x="229" y="293" width="1" height="1"/><rect x="227" y="294" width="3" height="1"/><rect x="227" y="295" width="1" height="1"/><rect x="229" y="295" width="1" height="1"/><rect x="227" y="296" width="3" height="1"/><rect x="243" y="322" width="1" height="1"/><rect x="242" y="323" width="2" height="1"/><rect x="243" y="324" width="1" height="1"/><rect x="243" y="325" width="1" height="1"/><rect x="242" y="326" width="3" height="1"/><rect x="246" y="322" width="3" height="1"/><rect x="246" y="323" width="1" height="1"/><rect x="246" y="324" width="3" height="1"/><rect x="248" y="325" width="1" height="1"/><rect x="246" y="326" width="3" height="1"/><rect x="253" y="351" width="1" height="1"/><rect x="252" y="352" width="2" height="1"/><rect x="253" y="353" width="1" height="1"/><rect x="253" y="354" width="1" height="1"/><rect x="252" y="355" width="3" height="1"/><rect x="256" y="351" width="3" height="1"/><rect x="258" y="352" width="1" height="1"/><rect x="256" y="353" width="3" height="1"/><rect x="256" y="354" width="1" height="1"/><rect x="256" y="355" width="3" height="1"/><rect x="262" y="381" width="3" height="1"/><rect x="262" y="382" width="1" height="1"/><rect x="264" y="382" width="1" height="1"/><rect x="262" y="383" width="1" height="1"/><rect x="264" y="383" width="1" height="1"/><rect x="262" y="384" width="1" height="1"/><rect x="264" y="384" width="1" height="1"/><rect x="262" y="385" width="3" height="1"/><rect x="266" y="381" width="3" height="1"/><rect x="266" y="382" width="1" height="1"/><rect x="268" y="382" width="1" height="1"/><rect x="266" y="383" width="3" height="1"/><rect x="268" y="384" width="1" height="1"/><rect x="266" y="385" width="3" height="1"/><rect x="242" y="411" width="3" height="1"/><rect x="242" y="412" width="1" height="1"/><rect x="244" y="412" width="1" height="1"/><rect x="242" y="413" width="1" height="1"/><rect x="244" y="413" width="1" height="1"/><rect x="242" y="414" width="1" height="1"/><rect x="244" y="414" width="1" height="1"/><rect x="242" y="415" width="3" height="1"/><rect x="246" y="411" width="3" height="1"/><rect x="246" y="412" width="1" height="1"/><rect x="246" y="413" width="3" height="1"/><rect x="248" y="414" width="1" height="1"/><rect x="246" y="415" width="3" height="1"/><rect x="252" y="440" width="3" height="1"/><rect x="252" y="441" width="1" height="1"/><rect x="254" y="441" width="1" height="1"/><rect x="252" y="442" width="1" height="1"/><rect x="254" y="442" width="1" height="1"/><rect x="252" y="443" width="1" height="1"/><rect x="254" y="443" width="1" height="1"/><rect x="252" y="444" width="3" height="1"/><rect x="256" y="440" width="3" height="1"/><rect x="258" y="441" width="1" height="1"/><rect x="256" y="442" width="3" height="1"/><rect x="258" y="443" width="1" height="1"/><rect x="256" y="444" width="3" height="1"/><rect x="292" y="460" width="3" height="1"/><rect x="294" y="461" width="1" height="1"/><rect x="292" y="462" width="3" height="1"/><rect x="294" y="463" width="1" height="1"/><rect x="292" y="464" width="3" height="1"/><rect x="296" y="460" width="3" height="1"/><rect x="296" y="461" width="1" height="1"/><rect x="296" y="462" width="3" height="1"/><rect x="298" y="463" width="1" height="1"/><rect x="296" y="464" width="3" height="1"/><rect x="332" y="480" width="3" height="1"/><rect x="334" y="481" width="1" height="1"/><rect x="332" y="482" width="3" height="1"/><rect x="334" y="483" width="1" height="1"/><rect x="332" y="484" width="3" height="1"/><rect x="336" y="480" width="3" height="1"/><rect x="336" y="481" width="1" height="1"/><rect x="338" y="481" width="1" height="1"/><rect x="336" y="482" width="3" height="1"/><rect x="338" y="483" width="1" height="1"/><rect x="336" y="484" width="3" height="1"/><rect x="371" y="450" width="1" height="1"/><rect x="373" y="450" width="1" height="1"/><rect x="371" y="451" width="1" height="1"/><rect x="373" y="451" width="1" height="1"/><rect x="371" y="452" width="3" height="1"/><rect x="373" y="453" width="1" height="1"/><rect x="373" y="454" width="1" height="1"/><rect x="375" y="450" width="3" height="1"/><rect x="377" y="451" width="1" height="1"/><rect x="375" y="452" width="3" height="1"/><rect x="377" y="453" width="1" height="1"/><rect x="375" y="454" width="3" height="1"/><rect x="410" y="440" width="1" height="1"/><rect x="412" y="440" width="1" height="1"/><rect x="410" y="441" width="1" height="1"/><rect x="412" y="441" width="1" height="1"/><rect x="410" y="442" width="3" height="1"/><rect x="412" y="443" width="1" height="1"/><rect x="412" y="444" width="1" height="1"/><rect x="414" y="440" width="3" height="1"/><rect x="416" y="441" width="1" height="1"/><rect x="416" y="442" width="1" height="1"/><rect x="415" y="443" width="1" height="1"/><rect x="415" y="444" width="1" height="1"/><rect x="430" y="450" width="1" height="1"/><rect x="432" y="450" width="1" height="1"/><rect x="430" y="451" width="1" height="1"/><rect x="432" y="451" width="1" height="1"/><rect x="430" y="452" width="3" height="1"/><rect x="432" y="453" width="1" height="1"/><rect x="432" y="454" width="1" height="1"/><rect x="434" y="450" width="3" height="1"/><rect x="434" y="451" width="1" height="1"/><rect x="436" y="451" width="1" height="1"/><rect x="434" y="452" width="3" height="1"/><rect x="436" y="453" width="1" height="1"/><rect x="434" y="454" width="3" height="1"/><rect x="548" y="312" width="3" height="1"/><rect x="548" y="313" width="1" height="1"/><rect x="548" y="314" width="3" height="1"/><rect x="550" y="315" width="1" height="1"/><rect x="548" y="316" width="3" height="1"/><rect x="553" y="312" width="1" height="1"/><rect x="552" y="313" width="2" height="1"/><rect x="553" y="314" width="1" height="1"/><rect x="553" y="315" width="1" height="1"/><rect x="552" y="316" width="3" height="1"/><rect x="568" y="312" width="3" height="1"/><rect x="568" y="313" width="1" height="1"/><rect x="568" y="314" width="3" height="1"/><rect x="570" y="315" width="1" height="1"/><rect x="568" y="316" width="3" height="1"/><rect x="572" y="312" width="3" height="1"/><rect x="574" y="313" width="1" height="1"/><rect x="572" y="314" width="3" height="1"/><rect x="574" y="315" width="1" height="1"/><rect x="572" y="316" width="3" height="1"/><rect x="588" y="313" width="3" height="1"/><rect x="588" y="314" width="1" height="1"/><rect x="588" y="315" width="3" height="1"/><rect x="590" y="316" width="1" height="1"/><rect x="588" y="317" width="3" height="1"/><rect x="592" y="313" width="3" height="1"/><rect x="592" y="314" width="1" height="1"/><rect x="592" y="315" width="3" height="1"/><rect x="594" y="316" width="1" height="1"/><rect x="592" y="317" width="3" height="1"/><rect x="607" y="313" width="3" height="1"/><rect x="607" y="314" width="1" height="1"/><rect x="607" y="315" width="3" height="1"/><rect x="609" y="316" width="1" height="1"/><rect x="607" y="317" width="3" height="1"/><rect x="611" y="313" width="3" height="1"/><rect x="613" y="314" width="1" height="1"/><rect x="613" y="315" width="1" height="1"/><rect x="612" y="316" width="1" height="1"/><rect x="612" y="317" width="1" height="1"/><rect x="687" y="165" width="3" height="1"/><rect x="689" y="166" width="1" height="1"/><rect x="687" y="167" width="3" height="1"/><rect x="689" y="168" width="1" height="1"/><rect x="687" y="169" width="3" height="1"/><rect x="692" y="165" width="1" height="1"/><rect x="691" y="166" width="2" height="1"/><rect x="692" y="167" width="1" height="1"/><rect x="692" y="168" width="1" height="1"/><rect x="691" y="169" width="3" height="1"/><rect x="677" y="195" width="3" height="1"/><rect x="679" y="196" width="1" height="1"/><rect x="677" y="197" width="3" height="1"/><rect x="677" y="198" width="1" height="1"/><rect x="677" y="199" width="3" height="1"/><rect x="681" y="195" width="3" height="1"/><rect x="681" y="196" width="1" height="1"/><rect x="683" y="196" width="1" height="1"/><rect x="681" y="197" width="3" height="1"/><rect x="681" y="198" width="1" height="1"/><rect x="683" y="198" width="1" height="1"/><rect x="681" y="199" width="3" height="1"/><rect x="667" y="224" width="3" height="1"/><rect x="669" y="225" width="1" height="1"/><rect x="667" y="226" width="3" height="1"/><rect x="667" y="227" width="1" height="1"/><rect x="667" y="228" width="3" height="1"/><rect x="671" y="224" width="3" height="1"/><rect x="671" y="225" width="1" height="1"/><rect x="671" y="226" width="3" height="1"/><rect x="673" y="227" width="1" height="1"/><rect x="671" y="228" width="3" height="1"/><rect x="667" y="244" width="3" height="1"/><rect x="669" y="245" width="1" height="1"/><rect x="667" y="246" width="3" height="1"/><rect x="667" y="247" width="1" height="1"/><rect x="667" y="248" width="3" height="1"/><rect x="671" y="244" width="3" height="1"/><rect x="673" y="245" width="1" height="1"/><rect x="671" y="246" width="3" height="1"/><rect x="673" y="247" width="1" height="1"/><rect x="671" y="248" width="3" height="1"/><rect x="629" y="293" width="1" height="1"/><rect x="628" y="294" width="2" height="1"/><rect x="629" y="295" width="1" height="1"/><rect x="629" y="296" width="1" height="1"/><rect x="628" y="297" width="3" height="1"/><rect x="632" y="293" width="3" height="1"/><rect x="632" y="294" width="1" height="1"/><rect x="634" y="294" width="1" height="1"/><rect x="632" y="295" width="3" height="1"/><rect x="632" y="296" width="1" height="1"/><rect x="634" y="296" width="1" height="1"/><rect x="632" y="297" width="3" height="1"/><rect x="521" y="322" width="1" height="1"/><rect x="520" y="323" width="2" height="1"/><rect x="521" y="324" width="1" height="1"/><rect x="521" y="325" width="1" height="1"/><rect x="520" y="326" width="3" height="1"/><rect x="524" y="322" width="3" height="1"/><rect x="524" y="323" width="1" height="1"/><rect x="524" y="324" width="3" height="1"/><rect x="526" y="325" width="1" height="1"/><rect x="524" y="326" width="3" height="1"/><rect x="471" y="391" width="3" height="1"/><rect x="471" y="392" width="1" height="1"/><rect x="473" y="392" width="1" height="1"/><rect x="471" y="393" width="1" height="1"/><rect x="473" y="393" width="1" height="1"/><rect x="471" y="394" width="1" height="1"/><rect x="473" y="394" width="1" height="1"/><rect x="471" y="395" width="3" height="1"/><rect x="475" y="391" width="3" height="1"/><rect x="475" y="392" width="1" height="1"/><rect x="477" y="392" width="1" height="1"/><rect x="475" y="393" width="3" height="1"/><rect x="475" y="394" width="1" height="1"/><rect x="477" y="394" width="1" height="1"/><rect x="475" y="395" width="3" height="1"/><rect x="451" y="431" width="3" height="1"/><rect x="451" y="432" width="1" height="1"/><rect x="453" y="432" width="1" height="1"/><rect x="451" y="433" width="1" height="1"/><rect x="453" y="433" width="1" height="1"/><rect x="451" y="434" width="1" height="1"/><rect x="453" y="434" width="1" height="1"/><rect x="451" y="435" width="3" height="1"/><rect x="455" y="431" width="1" height="1"/><rect x="457" y="431" width="1" height="1"/><rect x="455" y="432" width="1" height="1"/><rect x="457" y="432" width="1" height="1"/><rect x="455" y="433" width="3" height="1"/><rect x="457" y="434" width="1" height="1"/><rect x="457" y="435" width="1" height="1"/></g>
<!-- frames -->
<rect x="10.5" y="14.5" width="767" height="480" fill="none" stroke="#000" stroke-width="1"/>
<!-- left legend -->
<rect x="15" y="366" width="44" height="3" fill="#000"/>
<path d="M16,398 H28 M36,398 H48 M56,398 H60" stroke="#000" stroke-width="2" fill="none"/>
<rect x="27.5" y="432.5" width="22" height="19" fill="#fff" stroke="none"/>
<rect x="27.5" y="432.5" width="22" height="19" fill="url(#hx)" stroke="#000" stroke-width="1"/>
<!-- inset -->
<rect x="20.5" y="496.5" width="193" height="99" fill="#fff" stroke="#000" stroke-width="1"/>
<path d="M20.5,521.6 L25.7,524.8 L33.4,527.3 L42.4,530.5 L45.6,528.6 L53.9,528.0 L61.0,528.0 L64.8,528.0 L68.6,531.8 L73.1,537.0 L75.5,539.0 L74.4,540.2 L75.7,545.3 L77.0,551.0 L73.8,553.6 L75.0,556.8 L79.5,558.1 L84.0,560.7 L86.0,555.5 L91.0,553.0 L97.7,554.7 L102.8,559.2 L107.3,565.0 L114.4,570.1 L120.1,572.0 L127.2,576.5 L131.0,581.7 L137.4,586.2 L141.9,591.3 L142.0,595.0 L20.5,595.0 Z" fill="#00ffff" stroke="none"/>
<path d="M52.6,517.7 L54.5,513.2 L55.8,507.5 L59.7,503.6 L63.5,501.0 L71.2,499.1 L74.4,501.0 L77.6,504.0 L84.0,504.3 L89.8,506.8 L93.6,510.0 L100.0,511.3 L106.5,513.9 L112.9,515.2 L118.0,515.6 L136.0,515.8 L134.0,523.5 L132.0,529.3 L128.2,530.5 L125.6,535.0 L127.5,537.6 L116.0,537.6 L112.9,538.2 L110.3,544.0 L105.2,547.8 L102.6,553.0 L101.3,556.2 L97.5,554.3 L91.0,553.0 L86.0,552.3 L86.0,555.5 L84.0,560.7 L79.5,558.1 L75.0,556.8 L73.8,553.6 L77.0,551.0 L75.7,545.3 L74.4,540.2 L78.3,538.5 L78.3,537.6 L73.1,537.0 L68.6,531.8 L64.8,528.0 L61.0,528.0 L63.5,524.8 L67.4,524.1 L69.3,521.6 L67.4,519.6 L60.3,518.4 Z" fill="#666666" stroke="none"/>
<path d="M61.0,528.0 L63.5,524.8 L67.4,524.1 L69.3,521.6 L67.4,519.6 L60.3,518.4 L52.6,517.7 L54.5,513.2 L55.8,507.5 L59.7,503.6 L63.5,501.0 L71.2,499.1 L74.4,501.0 L77.6,504.0 L84.0,504.3 L89.8,506.8 L93.6,510.0 L100.0,511.3 L106.5,513.9 L112.9,515.2 L118.0,515.6 L136.0,515.8 L153.2,515.8 L160.2,510.0 L169.8,513.9 L178.2,517.7 L180.1,528.0 L167.9,529.3 L164.1,537.0 L158.3,540.8 L150.0,545.3 L150.0,550.4 L155.7,555.5 L159.6,559.4 L166.6,560.7 L169.8,566.4 L173.0,572.2 L171.1,572.8 L163.4,569.0 L157.7,565.9 L154.5,560.0 L148.0,552.3 L142.3,547.2 L139.0,543.4 L130.7,544.6 L128.8,550.4 L130.1,554.9 L138.4,556.8 L145.8,565.6 L146.4,578.5 L144.5,581.0 L143.8,586.2 L141.9,591.3 L137.4,586.2 L131.0,581.7 L127.2,576.5 L120.1,572.0 L114.4,570.1 L107.3,565.0 L102.8,559.2 L101.3,556.2 L97.5,554.3 L91.0,553.0 L86.0,552.3 L86.0,555.5 L84.0,560.7 L79.5,558.1 L75.0,556.8 L73.8,553.6 L77.0,551.0 L75.7,545.3 L74.4,540.2 L78.3,538.5 L78.3,537.6 L73.1,537.0 L68.6,531.8 L64.8,528.0" fill="none" stroke="#000" stroke-width="2.4" stroke-linejoin="round" shape-rendering="geometricPrecision"/>
<rect x="20.5" y="496.5" width="193" height="99" fill="none" stroke="#000" stroke-width="1"/>
<!-- right legend -->
<rect x="590.5" y="502.5" width="186" height="102" fill="#fff" stroke="#000" stroke-width="1"/>
<rect x="616.5" y="538.5" width="10" height="10" fill="#ff0000" stroke="#000"/>
<rect x="616.5" y="550.5" width="10" height="10" fill="#ffff00" stroke="#000"/>
<rect x="616.5" y="563.5" width="10" height="10" fill="#55ffff" stroke="#000"/>
<rect x="616.5" y="575.5" width="10" height="10" fill="#00ff00" stroke="#000"/>
</svg>
<div class="t" id="l1" style="left:65px;top:361.3px;font-size:13px;letter-spacing:-0.35px;">RELEASE AREA BOUNDARY</div>
<div class="t" id="l2" style="left:65px;top:391.1px;font-size:13px;letter-spacing:-0.47px;">COUNTY LINE</div>
<div class="t" id="l3" style="left:63.2px;top:428.8px;font-size:13px;letter-spacing:-0.19px;">NO AVAILABLE HOST</div>
<div class="t" id="l4" style="left:63.2px;top:443.8px;font-size:13px;letter-spacing:-0.6px;">YEAR - ROUND</div>
<div class="t s" id="i1" style="left:94.5px;top:498.1px;font-size:7px;letter-spacing:0.38px;-webkit-text-stroke:0.1px #000;">PREVENTIVE RELEASE</div>
<div class="t s" id="i2" style="left:119.8px;top:507.1px;font-size:7px;letter-spacing:0.6px;-webkit-text-stroke:0.1px #000;">AREA</div>
<div class="t" id="am" style="left:72.6px;top:598.8px;font-size:13px;letter-spacing:-0.18px;">AREA MAPPED</div>
<div class="t" id="t1" style="left:286.5px;top:496.5px;font-size:20.53px;">Medfly Preventive Release</div>
<div class="t" id="t2" style="left:314.7px;top:516px;font-size:20.56px;">Sterile Fly Recovery</div>
<div class="t" id="t3" style="left:301.4px;top:535.7px;font-size:18.95px;">Los Angeles County Area</div>
<div class="t" id="t4" style="left:284.6px;top:555.5px;font-size:17.9px;white-space:pre;">Cycle 99<span style="position:absolute;left:85.2px;top:-0.2px;font-size:18.2px">04/23/01 - 05/03/01</span></div>
<div class="t" id="n1" style="left:215.8px;top:577.7px;font-size:10.2px;">NOTE: UNSHADED GRIDS EITHER HAVE NO SEASONALLY AVAILABLE</div>
<div class="t" id="n2" style="left:257.3px;top:587.8px;font-size:10.55px;">HOST, OR THE TRAPS WERE NOT SERVICED THIS WEEK.</div>
<div class="t s" id="r1" style="left:599.7px;top:508.3px;font-size:10px;color:#ff0000;letter-spacing:0.17px;">AVERAGE NUMBER OF FLIES</div>
<div class="t s" id="r2" style="left:599.7px;top:521.0px;font-size:10px;color:#ff0000;letter-spacing:0.21px;">CAUGHT PER TRAP, PER DAY</div>
<div class="t s" id="k1" style="left:635.6px;top:539.0px;font-size:10px;color:#0000ff;letter-spacing:0.15px;">LESS THAN 1</div>
<div class="t s" id="k2" style="left:635.6px;top:552.0px;font-size:10px;color:#0000ff;letter-spacing:0.15px;">&gt;= 1 AND &lt; 2</div>
<div class="t s" id="k3" style="left:635.6px;top:564.1px;font-size:10px;color:#0000ff;letter-spacing:0.15px;">&gt;= 2 AND &lt; 3</div>
<div class="t s" id="k4" style="left:634.8px;top:577.0px;font-size:10px;color:#0000ff;letter-spacing:0.15px;">3 OR MORE</div>
<div class="t s" id="c1" style="left:690px;top:539.0px;font-size:10px;width:43px;text-align:right;color:#0000ff;letter-spacing:0.35px;">(47)</div>
<div class="t s" id="c2" style="left:690px;top:552.0px;font-size:10px;width:43px;text-align:right;color:#0000ff;letter-spacing:0.35px;">(38)</div>
<div class="t s" id="c3" style="left:690px;top:564.1px;font-size:10px;width:43px;text-align:right;color:#0000ff;letter-spacing:0.35px;">(161)</div>
<div class="t s" id="c4" style="left:690px;top:577.0px;font-size:10px;width:43px;text-align:right;color:#0000ff;letter-spacing:0.35px;">(853)</div>
</body></html>
